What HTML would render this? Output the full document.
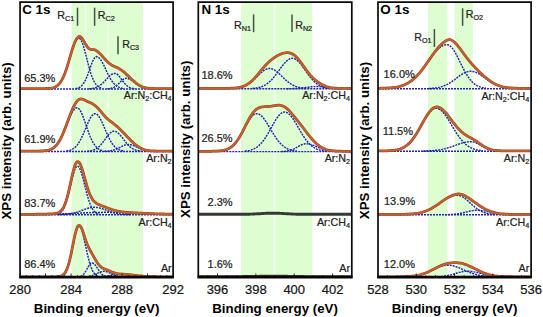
<!DOCTYPE html>
<html><head><meta charset="utf-8"><style>
html,body{margin:0;padding:0;background:#fff;width:543px;height:317px;overflow:hidden;font-family:"Liberation Sans", sans-serif;}
text.n{stroke:#222;stroke-width:0.22px;}
</style></head><body>
<svg width="543" height="317" viewBox="0 0 543 317" style="position:absolute;left:0;top:0"><defs><clipPath id="c0"><rect x="20.05" y="2.1" width="153.05" height="275.50"/></clipPath><clipPath id="c1"><rect x="198.3" y="2.1" width="153.50" height="275.50"/></clipPath><clipPath id="c2"><rect x="378.0" y="2.1" width="153.10" height="275.50"/></clipPath></defs><rect x="71.6" y="2.1" width="71.40" height="275.50" fill="#eefdea"/><rect x="71.6" y="2.1" width="13.00" height="275.50" fill="#defed2"/><rect x="86.4" y="2.1" width="20.80" height="275.50" fill="#defed2"/><rect x="109.2" y="2.1" width="33.80" height="275.50" fill="#defed2"/><rect x="241.2" y="2.1" width="71.00" height="275.50" fill="#eefdea"/><rect x="241.2" y="2.1" width="32.30" height="275.50" fill="#defed2"/><rect x="275.6" y="2.1" width="36.60" height="275.50" fill="#defed2"/><rect x="428.0" y="2.1" width="19.40" height="275.50" fill="#defed2"/><rect x="454.6" y="2.1" width="18.20" height="275.50" fill="#defed2"/><g clip-path="url(#c0)"><path d="M21.05,88.90 L172.1,88.90" stroke="#1e24b4" stroke-width="1.45" stroke-dasharray="2.0 1.0" fill="none"/><path d="M51.8,88.3 52.8,88.1 53.8,87.8 54.8,87.5 55.8,87.0 56.8,86.3 57.8,85.6 58.8,84.6 59.8,83.4 60.8,82.0 61.8,80.4 62.8,78.5 63.8,76.3 64.8,73.8 65.8,71.0 66.8,68.1 67.8,64.9 68.8,61.6 69.8,58.2 70.8,54.8 71.8,51.4 72.8,48.3 73.8,45.4 74.8,42.9 75.8,40.9 76.8,39.4 77.8,38.4 78.8,38.1 79.8,38.5 80.8,39.7 81.8,41.6 82.8,44.2 83.8,47.4 84.8,50.9 85.8,54.8 86.8,58.7 87.8,62.6 88.8,66.4 89.8,69.9 90.8,73.2 91.8,76.1 92.8,78.6 93.8,80.8 94.8,82.6 95.8,84.1 96.8,85.3 97.8,86.2 98.8,87.0 99.8,87.5 100.8,87.9 101.8,88.2" stroke="#1e24b4" stroke-width="1.45" stroke-dasharray="2.0 1.0" fill="none"/><path d="M75.8,88.5 76.8,88.4 77.8,88.1 78.8,87.7 79.8,87.2 80.8,86.5 81.8,85.6 82.8,84.4 83.8,83.0 84.8,81.3 85.8,79.3 86.8,76.9 87.8,74.4 88.8,71.7 89.8,68.8 90.8,66.0 91.8,63.4 92.8,61.0 93.8,59.1 94.8,57.6 95.8,56.8 96.8,56.6 97.8,56.9 98.8,57.5 99.8,58.6 100.8,59.9 101.8,61.5 102.8,63.3 103.8,65.3 104.8,67.4 105.8,69.5 106.8,71.7 107.8,73.7 108.8,75.7 109.8,77.6 110.8,79.3 111.8,80.9 112.8,82.2 113.8,83.4 114.8,84.5 115.8,85.4 116.8,86.1 117.8,86.7 118.8,87.2 119.8,87.6 120.8,87.9 121.8,88.2 122.8,88.4 123.8,88.5" stroke="#1e24b4" stroke-width="1.45" stroke-dasharray="2.0 1.0" fill="none"/><path d="M89.1,88.7 90.1,88.7 91.1,88.6 92.1,88.4 93.1,88.3 94.1,88.1 95.1,87.8 96.1,87.5 97.1,87.1 98.1,86.6 99.1,86.0 100.1,85.3 101.1,84.5 102.1,83.7 103.1,82.8 104.1,81.7 105.1,80.7 106.1,79.6 107.1,78.5 108.1,77.4 109.1,76.4 110.1,75.5 111.1,74.7 112.1,74.1 113.1,73.6 114.1,73.4 115.1,73.4 116.1,73.6 117.1,74.2 118.1,75.1 119.1,76.2 120.1,77.4 121.1,78.8 122.1,80.2 123.1,81.5 124.1,82.8 125.1,83.9 126.1,85.0 127.1,85.8 128.1,86.6 129.1,87.2 130.1,87.6 131.1,88.0 132.1,88.3 133.1,88.5 134.1,88.6 135.1,88.7" stroke="#1e24b4" stroke-width="1.45" stroke-dasharray="2.0 1.0" fill="none"/><path d="M107.3,88.8 108.3,88.7 109.3,88.6 110.3,88.5 111.3,88.2 112.3,88.0 113.3,87.6 114.3,87.1 115.3,86.5 116.3,85.8 117.3,84.9 118.3,84.0 119.3,83.0 120.3,82.0 121.3,81.0 122.3,80.0 123.3,79.3 124.3,78.7 125.3,78.4 126.3,78.3 127.3,78.4 128.3,78.7 129.3,79.0 130.3,79.5 131.3,80.1 132.3,80.8 133.3,81.5 134.3,82.2 135.3,83.0 136.3,83.7 137.3,84.4 138.3,85.1 139.3,85.7 140.3,86.2 141.3,86.7 142.3,87.1 143.3,87.5 144.3,87.8 145.3,88.0 146.3,88.2 147.3,88.4 148.3,88.5 149.3,88.6 150.3,88.7 151.3,88.8" stroke="#1e24b4" stroke-width="1.45" stroke-dasharray="2.0 1.0" fill="none"/><path d="M20.1,88.6 21.1,88.6 22.1,88.6 23.1,88.6 24.1,88.6 25.1,88.6 26.1,88.6 27.1,88.6 28.1,88.6 29.1,88.6 30.1,88.6 31.1,88.6 32.0,88.6 33.0,88.6 34.0,88.6 35.0,88.6 36.0,88.6 37.0,88.6 38.0,88.6 39.0,88.6 40.0,88.6 41.0,88.6 42.0,88.6 43.0,88.6 44.0,88.6 45.0,88.6 46.0,88.5 47.0,88.5 48.0,88.5 49.0,88.4 50.0,88.3 51.0,88.2 52.0,88.0 53.0,87.8 54.0,87.5 55.0,87.1 56.0,86.6 57.0,85.9 58.0,85.1 59.0,84.1 60.0,82.9 61.0,81.4 62.0,79.7 63.0,77.7 64.0,75.5 65.0,73.0 66.0,70.2 67.0,67.1 68.0,63.9 69.0,60.6 70.0,57.2 71.0,53.7 72.0,50.4 73.0,47.3 74.0,44.4 75.0,41.9 76.0,39.8 77.0,38.2 78.0,37.1 79.0,36.5 80.0,36.5 81.0,37.1 82.0,38.2 83.0,39.7 84.0,41.4 85.0,43.2 86.0,44.9 87.0,46.4 88.0,47.7 89.0,48.6 90.0,49.2 91.0,49.5 92.0,49.6 93.0,49.7 94.0,49.7 95.0,49.9 96.0,50.4 97.0,51.1 98.0,51.9 99.0,52.8 100.0,53.7 101.0,54.7 102.0,55.8 103.0,57.0 104.0,58.1 105.0,59.2 106.0,60.3 107.0,61.3 108.0,62.3 109.0,63.2 110.0,63.9 111.0,64.6 112.0,65.3 113.0,65.8 114.0,66.3 115.0,66.7 116.0,67.1 117.0,67.6 118.0,68.1 119.0,68.6 120.0,69.2 121.0,69.9 122.0,70.5 123.0,71.3 124.0,72.0 125.0,72.9 126.0,73.9 127.0,74.9 128.1,75.9 129.1,76.8 130.1,77.8 131.1,78.7 132.1,79.7 133.1,80.6 134.1,81.4 135.1,82.3 136.1,83.1 137.1,83.9 138.1,84.6 139.1,85.2 140.1,85.8 141.1,86.3 142.1,86.7 143.1,87.1 144.1,87.4 145.1,87.7 146.1,87.9 147.1,88.1 148.1,88.2 149.1,88.3 150.1,88.4 151.1,88.4 152.1,88.5 153.1,88.5 154.1,88.5 155.1,88.6 156.1,88.6 157.1,88.6 158.1,88.6 159.1,88.6 160.1,88.6 161.1,88.6 162.1,88.6 163.1,88.6 164.1,88.6 165.1,88.6 166.1,88.6 167.1,88.6 168.1,88.6 169.1,88.6 170.1,88.6 171.1,88.6 172.1,88.6 173.1,88.6" stroke="#8c4a2c" stroke-width="2.8" fill="none" stroke-linejoin="round"/><path d="M20.1,88.6 21.1,88.6 22.1,88.6 23.1,88.6 24.1,88.6 25.1,88.6 26.1,88.6 27.1,88.6 28.1,88.6 29.1,88.6 30.1,88.6 31.1,88.6 32.0,88.6 33.0,88.6 34.0,88.6 35.0,88.6 36.0,88.6 37.0,88.6 38.0,88.6 39.0,88.6 40.0,88.6 41.0,88.6 42.0,88.6 43.0,88.6 44.0,88.6 45.0,88.6 46.0,88.5 47.0,88.5 48.0,88.5 49.0,88.4 50.0,88.3 51.0,88.2 52.0,88.0 53.0,87.8 54.0,87.5 55.0,87.1 56.0,86.6 57.0,85.9 58.0,85.1 59.0,84.1 60.0,82.9 61.0,81.4 62.0,79.7 63.0,77.7 64.0,75.5 65.0,73.0 66.0,70.2 67.0,67.1 68.0,63.9 69.0,60.6 70.0,57.2 71.0,53.7 72.0,50.4 73.0,47.3 74.0,44.4 75.0,41.9 76.0,39.8 77.0,38.2 78.0,37.1 79.0,36.5 80.0,36.5 81.0,37.1 82.0,38.2 83.0,39.7 84.0,41.4 85.0,43.2 86.0,44.9 87.0,46.4 88.0,47.7 89.0,48.6 90.0,49.2 91.0,49.5 92.0,49.6 93.0,49.7 94.0,49.7 95.0,49.9 96.0,50.4 97.0,51.1 98.0,51.9 99.0,52.8 100.0,53.7 101.0,54.7 102.0,55.8 103.0,57.0 104.0,58.1 105.0,59.2 106.0,60.3 107.0,61.3 108.0,62.3 109.0,63.2 110.0,63.9 111.0,64.6 112.0,65.3 113.0,65.8 114.0,66.3 115.0,66.7 116.0,67.1 117.0,67.6 118.0,68.1 119.0,68.6 120.0,69.2 121.0,69.9 122.0,70.5 123.0,71.3 124.0,72.0 125.0,72.9 126.0,73.9 127.0,74.9 128.1,75.9 129.1,76.8 130.1,77.8 131.1,78.7 132.1,79.7 133.1,80.6 134.1,81.4 135.1,82.3 136.1,83.1 137.1,83.9 138.1,84.6 139.1,85.2 140.1,85.8 141.1,86.3 142.1,86.7 143.1,87.1 144.1,87.4 145.1,87.7 146.1,87.9 147.1,88.1 148.1,88.2 149.1,88.3 150.1,88.4 151.1,88.4 152.1,88.5 153.1,88.5 154.1,88.5 155.1,88.6 156.1,88.6 157.1,88.6 158.1,88.6 159.1,88.6 160.1,88.6 161.1,88.6 162.1,88.6 163.1,88.6 164.1,88.6 165.1,88.6 166.1,88.6 167.1,88.6 168.1,88.6 169.1,88.6 170.1,88.6 171.1,88.6 172.1,88.6 173.1,88.6" stroke="#cc5e28" stroke-width="1.8" fill="none" stroke-linejoin="round"/><path d="M21.05,151.40 L172.1,151.40" stroke="#1e24b4" stroke-width="1.45" stroke-dasharray="2.0 1.0" fill="none"/><path d="M46.1,150.9 47.1,150.8 48.1,150.5 49.1,150.3 50.1,150.0 51.1,149.6 52.1,149.1 53.1,148.4 54.1,147.7 55.1,146.9 56.1,145.8 57.1,144.7 58.1,143.3 59.1,141.8 60.1,140.1 61.1,138.2 62.1,136.1 63.1,133.9 64.1,131.5 65.1,129.0 66.1,126.5 67.1,123.9 68.1,121.4 69.1,118.9 70.1,116.6 71.1,114.4 72.1,112.5 73.1,110.8 74.1,109.5 75.1,108.5 76.1,108.0 77.1,107.8 78.1,108.1 79.1,109.0 80.1,110.3 81.1,112.1 82.1,114.3 83.1,116.7 84.1,119.5 85.1,122.3 86.1,125.2 87.1,128.2 88.1,131.0 89.1,133.7 90.1,136.3 91.1,138.6 92.1,140.7 93.1,142.6 94.1,144.2 95.1,145.6 96.1,146.8 97.1,147.8 98.1,148.6 99.1,149.3 100.1,149.8 101.1,150.2 102.1,150.5 103.1,150.7" stroke="#1e24b4" stroke-width="1.45" stroke-dasharray="2.0 1.0" fill="none"/><path d="M66.5,151.0 67.5,150.8 68.5,150.6 69.5,150.4 70.5,150.1 71.5,149.6 72.5,149.1 73.5,148.5 74.5,147.8 75.5,146.9 76.5,145.8 77.5,144.6 78.5,143.1 79.5,141.5 80.5,139.8 81.5,137.8 82.5,135.7 83.5,133.5 84.5,131.1 85.5,128.7 86.5,126.4 87.5,124.0 88.5,121.8 89.5,119.7 90.5,117.9 91.5,116.3 92.5,115.1 93.5,114.2 94.5,113.7 95.5,113.7 96.5,114.0 97.5,114.8 98.5,115.9 99.5,117.3 100.5,119.1 101.5,121.1 102.5,123.2 103.5,125.5 104.5,127.9 105.5,130.3 106.5,132.6 107.5,134.9 108.5,137.0 109.5,139.0 110.5,140.9 111.5,142.5 112.5,144.0 113.5,145.3 114.5,146.4 115.5,147.4 116.5,148.2 117.5,148.9 118.5,149.4 119.5,149.9 120.5,150.2 121.5,150.5 122.5,150.7 123.5,150.9" stroke="#1e24b4" stroke-width="1.45" stroke-dasharray="2.0 1.0" fill="none"/><path d="M87.4,151.2 88.4,151.1 89.4,151.0 90.4,150.8 91.4,150.6 92.4,150.4 93.4,150.0 94.4,149.7 95.4,149.2 96.4,148.6 97.4,147.9 98.4,147.1 99.4,146.2 100.4,145.2 101.4,144.1 102.4,142.9 103.4,141.6 104.4,140.3 105.4,138.9 106.4,137.5 107.4,136.2 108.4,134.9 109.4,133.8 110.4,132.9 111.4,132.1 112.4,131.5 113.4,131.2 114.4,131.2 115.4,131.4 116.4,131.8 117.4,132.4 118.4,133.2 119.4,134.2 120.4,135.3 121.4,136.5 122.4,137.8 123.4,139.1 124.4,140.4 125.4,141.7 126.4,143.0 127.4,144.1 128.4,145.2 129.4,146.2 130.4,147.1 131.4,147.8 132.4,148.5 133.4,149.1 134.4,149.5 135.4,149.9 136.4,150.3 137.4,150.5 138.4,150.7 139.4,150.9 140.4,151.0 141.4,151.1" stroke="#1e24b4" stroke-width="1.45" stroke-dasharray="2.0 1.0" fill="none"/><path d="M104.1,151.3 105.1,151.3 106.1,151.2 107.1,151.2 108.1,151.1 109.1,151.0 110.1,150.9 111.1,150.7 112.1,150.5 113.1,150.2 114.1,149.9 115.1,149.6 116.1,149.2 117.1,148.8 118.1,148.3 119.1,147.8 120.1,147.3 121.1,146.8 122.1,146.3 123.1,145.8 124.1,145.4 125.1,145.0 126.1,144.8 127.1,144.6 128.1,144.5 129.1,144.5 130.1,144.6 131.1,144.8 132.1,145.1 133.1,145.4 134.1,145.8 135.1,146.3 136.1,146.7 137.1,147.2 138.1,147.7 139.1,148.1 140.1,148.6 141.1,149.0 142.1,149.4 143.1,149.7 144.1,150.0 145.1,150.3 146.1,150.5 147.1,150.7 148.1,150.8 149.1,151.0 150.1,151.1 151.1,151.2 152.1,151.2 153.1,151.3 154.1,151.3" stroke="#1e24b4" stroke-width="1.45" stroke-dasharray="2.0 1.0" fill="none"/><path d="M20.1,151.1 21.1,151.1 22.1,151.1 23.1,151.1 24.1,151.1 25.1,151.1 26.1,151.1 27.1,151.1 28.1,151.1 29.1,151.1 30.1,151.1 31.1,151.1 32.0,151.1 33.0,151.1 34.0,151.1 35.0,151.1 36.0,151.1 37.0,151.1 38.0,151.1 39.0,151.1 40.0,151.0 41.0,151.0 42.0,151.0 43.0,150.9 44.0,150.8 45.0,150.7 46.0,150.6 47.0,150.5 48.0,150.3 49.0,150.0 50.0,149.7 51.0,149.3 52.0,148.8 53.0,148.2 54.0,147.5 55.0,146.6 56.0,145.6 57.0,144.4 58.0,143.1 59.0,141.5 60.0,139.8 61.0,137.9 62.0,135.8 63.0,133.5 64.0,131.1 65.0,128.6 66.0,126.0 67.0,123.3 68.0,120.5 69.0,117.8 70.0,115.2 71.0,112.6 72.0,110.2 73.0,108.0 74.0,106.0 75.0,104.2 76.0,102.6 77.0,101.2 78.0,100.2 79.0,99.5 80.0,99.1 81.0,99.0 82.0,99.1 83.0,99.4 84.0,99.7 85.0,100.2 86.0,100.7 87.0,101.2 88.0,101.7 89.0,102.1 90.0,102.6 91.0,103.1 92.0,103.6 93.0,104.1 94.0,104.8 95.0,105.5 96.0,106.3 97.0,107.2 98.0,108.2 99.0,109.3 100.0,110.5 101.0,111.7 102.0,112.9 103.0,114.1 104.0,115.3 105.0,116.4 106.0,117.5 107.0,118.4 108.0,119.3 109.0,120.2 110.0,121.0 111.0,121.7 112.0,122.4 113.0,123.2 114.0,124.0 115.0,124.8 116.0,125.6 117.0,126.4 118.0,127.3 119.0,128.2 120.0,129.2 121.0,130.2 122.0,131.2 123.0,132.2 124.0,133.3 125.0,134.3 126.0,135.4 127.0,136.5 128.1,137.5 129.1,138.6 130.1,139.6 131.1,140.7 132.1,141.6 133.1,142.6 134.1,143.5 135.1,144.3 136.1,145.2 137.1,145.9 138.1,146.6 139.1,147.3 140.1,147.8 141.1,148.4 142.1,148.8 143.1,149.2 144.1,149.6 145.1,149.9 146.1,150.1 147.1,150.3 148.1,150.5 149.1,150.6 150.1,150.8 151.1,150.8 152.1,150.9 153.1,151.0 154.1,151.0 155.1,151.0 156.1,151.1 157.1,151.1 158.1,151.1 159.1,151.1 160.1,151.1 161.1,151.1 162.1,151.1 163.1,151.1 164.1,151.1 165.1,151.1 166.1,151.1 167.1,151.1 168.1,151.1 169.1,151.1 170.1,151.1 171.1,151.1 172.1,151.1 173.1,151.1" stroke="#8c4a2c" stroke-width="2.8" fill="none" stroke-linejoin="round"/><path d="M20.1,151.1 21.1,151.1 22.1,151.1 23.1,151.1 24.1,151.1 25.1,151.1 26.1,151.1 27.1,151.1 28.1,151.1 29.1,151.1 30.1,151.1 31.1,151.1 32.0,151.1 33.0,151.1 34.0,151.1 35.0,151.1 36.0,151.1 37.0,151.1 38.0,151.1 39.0,151.1 40.0,151.0 41.0,151.0 42.0,151.0 43.0,150.9 44.0,150.8 45.0,150.7 46.0,150.6 47.0,150.5 48.0,150.3 49.0,150.0 50.0,149.7 51.0,149.3 52.0,148.8 53.0,148.2 54.0,147.5 55.0,146.6 56.0,145.6 57.0,144.4 58.0,143.1 59.0,141.5 60.0,139.8 61.0,137.9 62.0,135.8 63.0,133.5 64.0,131.1 65.0,128.6 66.0,126.0 67.0,123.3 68.0,120.5 69.0,117.8 70.0,115.2 71.0,112.6 72.0,110.2 73.0,108.0 74.0,106.0 75.0,104.2 76.0,102.6 77.0,101.2 78.0,100.2 79.0,99.5 80.0,99.1 81.0,99.0 82.0,99.1 83.0,99.4 84.0,99.7 85.0,100.2 86.0,100.7 87.0,101.2 88.0,101.7 89.0,102.1 90.0,102.6 91.0,103.1 92.0,103.6 93.0,104.1 94.0,104.8 95.0,105.5 96.0,106.3 97.0,107.2 98.0,108.2 99.0,109.3 100.0,110.5 101.0,111.7 102.0,112.9 103.0,114.1 104.0,115.3 105.0,116.4 106.0,117.5 107.0,118.4 108.0,119.3 109.0,120.2 110.0,121.0 111.0,121.7 112.0,122.4 113.0,123.2 114.0,124.0 115.0,124.8 116.0,125.6 117.0,126.4 118.0,127.3 119.0,128.2 120.0,129.2 121.0,130.2 122.0,131.2 123.0,132.2 124.0,133.3 125.0,134.3 126.0,135.4 127.0,136.5 128.1,137.5 129.1,138.6 130.1,139.6 131.1,140.7 132.1,141.6 133.1,142.6 134.1,143.5 135.1,144.3 136.1,145.2 137.1,145.9 138.1,146.6 139.1,147.3 140.1,147.8 141.1,148.4 142.1,148.8 143.1,149.2 144.1,149.6 145.1,149.9 146.1,150.1 147.1,150.3 148.1,150.5 149.1,150.6 150.1,150.8 151.1,150.8 152.1,150.9 153.1,151.0 154.1,151.0 155.1,151.0 156.1,151.1 157.1,151.1 158.1,151.1 159.1,151.1 160.1,151.1 161.1,151.1 162.1,151.1 163.1,151.1 164.1,151.1 165.1,151.1 166.1,151.1 167.1,151.1 168.1,151.1 169.1,151.1 170.1,151.1 171.1,151.1 172.1,151.1 173.1,151.1" stroke="#cc5e28" stroke-width="1.8" fill="none" stroke-linejoin="round"/><path d="M21.05,214.70 L172.1,214.70" stroke="#1e24b4" stroke-width="1.45" stroke-dasharray="2.0 1.0" fill="none"/><path d="M57.2,214.2 58.2,213.9 59.2,213.4 60.2,212.8 61.2,212.0 62.2,210.9 63.2,209.5 64.2,207.6 65.2,205.3 66.2,202.6 67.2,199.3 68.2,195.7 69.2,191.6 70.2,187.4 71.2,183.0 72.2,178.7 73.2,174.8 74.2,171.4 75.2,168.7 76.2,167.0 77.2,166.2 78.2,166.4 79.2,167.6 80.2,169.6 81.2,172.3 82.2,175.6 83.2,179.3 84.2,183.2 85.2,187.2 86.2,191.2 87.2,195.0 88.2,198.4 89.2,201.5 90.2,204.3 91.2,206.6 92.2,208.5 93.2,210.0 94.2,211.3 95.2,212.2 96.2,212.9 97.2,213.5 98.2,213.9 99.2,214.1" stroke="#1e24b4" stroke-width="1.45" stroke-dasharray="2.0 1.0" fill="none"/><path d="M58.0,214.6 59.0,214.6 60.0,214.6 61.0,214.5 62.0,214.5 63.0,214.4 64.0,214.4 65.0,214.3 66.0,214.2 67.0,214.1 68.0,214.0 69.0,213.9 70.0,213.7 71.0,213.6 72.0,213.4 73.0,213.1 74.0,212.9 75.0,212.6 76.0,212.4 77.0,212.1 78.0,211.7 79.0,211.4 80.0,211.1 81.0,210.7 82.0,210.3 83.0,210.0 84.0,209.6 85.0,209.2 86.0,208.9 87.0,208.6 88.0,208.3 89.0,208.0 90.0,207.8 91.0,207.6 92.0,207.5 93.0,207.4 94.0,207.3 95.0,207.3 96.0,207.4 97.0,207.5 98.0,207.6 99.0,207.8 100.0,208.1 101.0,208.4 102.0,208.7 103.0,209.0 104.0,209.3 105.0,209.7 106.0,210.1 107.0,210.5 108.0,210.8 109.0,211.2 110.0,211.6 111.0,211.9 112.0,212.2 113.0,212.5 114.0,212.8 115.0,213.0 116.0,213.3 117.0,213.5 118.0,213.7 119.0,213.8 120.0,214.0 121.0,214.1 122.0,214.2 123.0,214.3 124.0,214.4 125.0,214.4 126.0,214.5 127.0,214.5 128.1,214.6 129.1,214.6 130.1,214.6" stroke="#1e24b4" stroke-width="1.45" stroke-dasharray="2.0 1.0" fill="none"/><path d="M20.1,214.7 21.1,214.7 22.1,214.7 23.1,214.6 24.1,214.6 25.1,214.6 26.1,214.6 27.1,214.6 28.1,214.6 29.1,214.6 30.1,214.6 31.1,214.6 32.0,214.6 33.0,214.6 34.0,214.6 35.0,214.6 36.0,214.5 37.0,214.5 38.0,214.5 39.0,214.5 40.0,214.5 41.0,214.5 42.0,214.5 43.0,214.4 44.0,214.4 45.0,214.4 46.0,214.4 47.0,214.4 48.0,214.3 49.0,214.3 50.0,214.3 51.0,214.3 52.0,214.2 53.0,214.2 54.0,214.2 55.0,214.1 56.0,214.1 57.0,214.1 58.0,214.0 59.0,214.0 60.0,214.0 61.0,213.9 62.0,213.9 63.0,213.8 64.0,213.8 65.0,213.8 66.0,213.7 67.0,213.7 68.0,213.6 69.0,213.6 70.0,213.5 71.0,213.5 72.0,213.5 73.0,213.4 74.0,213.4 75.0,213.3 76.0,213.3 77.0,213.2 78.0,213.2 79.0,213.1 80.0,213.1 81.0,213.0 82.0,213.0 83.0,212.9 84.0,212.9 85.0,212.8 86.0,212.8 87.0,212.8 88.0,212.7 89.0,212.7 90.0,212.6 91.0,212.6 92.0,212.6 93.0,212.5 94.0,212.5 95.0,212.5 96.0,212.5 97.0,212.4 98.0,212.4 99.0,212.4 100.0,212.4 101.0,212.4 102.0,212.4 103.0,212.3 104.0,212.3 105.0,212.3 106.0,212.3 107.0,212.3 108.0,212.3 109.0,212.3 110.0,212.4 111.0,212.4 112.0,212.4 113.0,212.4 114.0,212.4 115.0,212.4 116.0,212.5 117.0,212.5 118.0,212.5 119.0,212.5 120.0,212.6 121.0,212.6 122.0,212.6 123.0,212.7 124.0,212.7 125.0,212.8 126.0,212.8 127.0,212.8 128.1,212.9 129.1,212.9 130.1,213.0 131.1,213.0 132.1,213.1 133.1,213.1 134.1,213.2 135.1,213.2 136.1,213.3 137.1,213.3 138.1,213.4 139.1,213.4 140.1,213.5 141.1,213.5 142.1,213.6 143.1,213.6 144.1,213.6 145.1,213.7 146.1,213.7 147.1,213.8 148.1,213.8 149.1,213.9 150.1,213.9 151.1,213.9 152.1,214.0 153.1,214.0 154.1,214.0 155.1,214.1 156.1,214.1 157.1,214.1 158.1,214.2 159.1,214.2 160.1,214.2 161.1,214.3 162.1,214.3 163.1,214.3 164.1,214.3 165.1,214.4 166.1,214.4 167.1,214.4 168.1,214.4 169.1,214.4 170.1,214.5 171.1,214.5 172.1,214.5 173.1,214.5" stroke="#1e24b4" stroke-width="1.45" stroke-dasharray="2.0 1.0" fill="none"/><path d="M20.1,214.4 21.1,214.4 22.1,214.4 23.1,214.3 24.1,214.3 25.1,214.3 26.1,214.3 27.1,214.3 28.1,214.3 29.1,214.3 30.1,214.3 31.1,214.3 32.0,214.3 33.0,214.3 34.0,214.3 35.0,214.3 36.0,214.2 37.0,214.2 38.0,214.2 39.0,214.2 40.0,214.2 41.0,214.2 42.0,214.2 43.0,214.1 44.0,214.1 45.0,214.1 46.0,214.1 47.0,214.1 48.0,214.0 49.0,214.0 50.0,214.0 51.0,213.9 52.0,213.9 53.0,213.8 54.0,213.7 55.0,213.6 56.0,213.4 57.0,213.2 58.0,212.9 59.0,212.4 60.0,211.8 61.0,210.9 62.0,209.8 63.0,208.3 64.0,206.4 65.0,204.0 66.0,201.2 67.0,197.9 68.0,194.1 69.0,189.9 70.0,185.5 71.0,180.9 72.0,176.4 73.0,172.1 74.0,168.4 75.0,165.3 76.0,163.1 77.0,161.8 78.0,161.6 79.0,162.2 80.0,163.7 81.0,165.9 82.0,168.7 83.0,171.9 84.0,175.5 85.0,179.1 86.0,182.7 87.0,186.1 88.0,189.3 89.0,192.2 90.0,194.7 91.0,196.8 92.0,198.6 93.0,200.1 94.0,201.3 95.0,202.2 96.0,203.0 97.0,203.6 98.0,204.2 99.0,204.6 100.0,205.1 101.0,205.5 102.0,205.9 103.0,206.2 104.0,206.6 105.0,207.0 106.0,207.4 107.0,207.8 108.0,208.2 109.0,208.5 110.0,208.9 111.0,209.2 112.0,209.6 113.0,209.9 114.0,210.2 115.0,210.5 116.0,210.7 117.0,211.0 118.0,211.2 119.0,211.4 120.0,211.5 121.0,211.7 122.0,211.8 123.0,212.0 124.0,212.1 125.0,212.2 126.0,212.3 127.0,212.4 128.1,212.5 129.1,212.5 130.1,212.6 131.1,212.7 132.1,212.7 133.1,212.8 134.1,212.8 135.1,212.9 136.1,213.0 137.1,213.0 138.1,213.1 139.1,213.1 140.1,213.2 141.1,213.2 142.1,213.2 143.1,213.3 144.1,213.3 145.1,213.4 146.1,213.4 147.1,213.5 148.1,213.5 149.1,213.6 150.1,213.6 151.1,213.6 152.1,213.7 153.1,213.7 154.1,213.7 155.1,213.8 156.1,213.8 157.1,213.8 158.1,213.9 159.1,213.9 160.1,213.9 161.1,214.0 162.1,214.0 163.1,214.0 164.1,214.0 165.1,214.1 166.1,214.1 167.1,214.1 168.1,214.1 169.1,214.1 170.1,214.2 171.1,214.2 172.1,214.2 173.1,214.2" stroke="#8c4a2c" stroke-width="2.8" fill="none" stroke-linejoin="round"/><path d="M20.1,214.4 21.1,214.4 22.1,214.4 23.1,214.3 24.1,214.3 25.1,214.3 26.1,214.3 27.1,214.3 28.1,214.3 29.1,214.3 30.1,214.3 31.1,214.3 32.0,214.3 33.0,214.3 34.0,214.3 35.0,214.3 36.0,214.2 37.0,214.2 38.0,214.2 39.0,214.2 40.0,214.2 41.0,214.2 42.0,214.2 43.0,214.1 44.0,214.1 45.0,214.1 46.0,214.1 47.0,214.1 48.0,214.0 49.0,214.0 50.0,214.0 51.0,213.9 52.0,213.9 53.0,213.8 54.0,213.7 55.0,213.6 56.0,213.4 57.0,213.2 58.0,212.9 59.0,212.4 60.0,211.8 61.0,210.9 62.0,209.8 63.0,208.3 64.0,206.4 65.0,204.0 66.0,201.2 67.0,197.9 68.0,194.1 69.0,189.9 70.0,185.5 71.0,180.9 72.0,176.4 73.0,172.1 74.0,168.4 75.0,165.3 76.0,163.1 77.0,161.8 78.0,161.6 79.0,162.2 80.0,163.7 81.0,165.9 82.0,168.7 83.0,171.9 84.0,175.5 85.0,179.1 86.0,182.7 87.0,186.1 88.0,189.3 89.0,192.2 90.0,194.7 91.0,196.8 92.0,198.6 93.0,200.1 94.0,201.3 95.0,202.2 96.0,203.0 97.0,203.6 98.0,204.2 99.0,204.6 100.0,205.1 101.0,205.5 102.0,205.9 103.0,206.2 104.0,206.6 105.0,207.0 106.0,207.4 107.0,207.8 108.0,208.2 109.0,208.5 110.0,208.9 111.0,209.2 112.0,209.6 113.0,209.9 114.0,210.2 115.0,210.5 116.0,210.7 117.0,211.0 118.0,211.2 119.0,211.4 120.0,211.5 121.0,211.7 122.0,211.8 123.0,212.0 124.0,212.1 125.0,212.2 126.0,212.3 127.0,212.4 128.1,212.5 129.1,212.5 130.1,212.6 131.1,212.7 132.1,212.7 133.1,212.8 134.1,212.8 135.1,212.9 136.1,213.0 137.1,213.0 138.1,213.1 139.1,213.1 140.1,213.2 141.1,213.2 142.1,213.2 143.1,213.3 144.1,213.3 145.1,213.4 146.1,213.4 147.1,213.5 148.1,213.5 149.1,213.6 150.1,213.6 151.1,213.6 152.1,213.7 153.1,213.7 154.1,213.7 155.1,213.8 156.1,213.8 157.1,213.8 158.1,213.9 159.1,213.9 160.1,213.9 161.1,214.0 162.1,214.0 163.1,214.0 164.1,214.0 165.1,214.1 166.1,214.1 167.1,214.1 168.1,214.1 169.1,214.1 170.1,214.2 171.1,214.2 172.1,214.2 173.1,214.2" stroke="#cc5e28" stroke-width="1.8" fill="none" stroke-linejoin="round"/><path d="M21.05,277.10 L172.1,277.10" stroke="#1e24b4" stroke-width="1.45" stroke-dasharray="2.0 1.0" fill="none"/><path d="M60.5,276.5 61.5,276.2 62.5,275.7 63.5,274.9 64.5,273.9 65.5,272.4 66.5,270.5 67.5,268.1 68.5,265.0 69.5,261.4 70.5,257.2 71.5,252.5 72.5,247.6 73.5,242.5 74.5,237.7 75.5,233.4 76.5,229.8 77.5,227.3 78.5,226.1 79.5,226.1 80.5,227.3 81.5,229.5 82.5,232.7 83.5,236.6 84.5,240.9 85.5,245.5 86.5,250.1 87.5,254.6 88.5,258.7 89.5,262.5 90.5,265.7 91.5,268.4 92.5,270.6 93.5,272.4 94.5,273.7 95.5,274.7 96.5,275.5 97.5,276.0 98.5,276.4" stroke="#1e24b4" stroke-width="1.45" stroke-dasharray="2.0 1.0" fill="none"/><path d="M77.8,276.9 78.8,276.8 79.8,276.6 80.8,276.2 81.8,275.7 82.8,275.0 83.8,274.0 84.8,272.7 85.8,271.1 86.8,269.4 87.8,267.6 88.8,265.8 89.8,264.4 90.8,263.4 91.8,262.9 92.8,263.0 93.8,263.6 94.8,264.5 95.8,265.8 96.8,267.3 97.8,268.9 98.8,270.4 99.8,271.8 100.8,273.1 101.8,274.1 102.8,275.0 103.8,275.6 104.8,276.1 105.8,276.5 106.8,276.7 107.8,276.9" stroke="#1e24b4" stroke-width="1.45" stroke-dasharray="2.0 1.0" fill="none"/><path d="M82.8,277.0 83.8,277.0 84.8,277.0 85.8,276.9 86.8,276.8 87.8,276.7 88.8,276.5 89.8,276.3 90.8,276.1 91.8,275.8 92.8,275.4 93.8,275.0 94.8,274.6 95.8,274.1 96.8,273.6 97.8,273.1 98.8,272.7 99.8,272.2 100.8,271.9 101.8,271.6 102.8,271.4 103.8,271.3 104.8,271.4 105.8,271.5 106.8,271.8 107.8,272.1 108.8,272.6 109.8,273.0 110.8,273.5 111.8,274.0 112.8,274.5 113.8,275.0 114.8,275.4 115.8,275.7 116.8,276.0 117.8,276.3 118.8,276.5 119.8,276.7 120.8,276.8 121.8,276.9 122.8,276.9 123.8,277.0 124.8,277.0" stroke="#1e24b4" stroke-width="1.45" stroke-dasharray="2.0 1.0" fill="none"/><path d="M83.3,277.1 84.3,277.1 85.3,277.1 86.3,277.0 87.3,277.0 88.3,277.0 89.3,277.0 90.3,277.0 91.3,277.0 92.3,276.9 93.3,276.9 94.3,276.9 95.3,276.8 96.3,276.8 97.3,276.7 98.3,276.6 99.3,276.6 100.3,276.5 101.3,276.4 102.3,276.3 103.3,276.2 104.3,276.1 105.3,276.0 106.3,275.9 107.3,275.8 108.3,275.7 109.3,275.6 110.3,275.4 111.3,275.3 112.3,275.2 113.3,275.1 114.3,275.0 115.3,274.9 116.3,274.8 117.3,274.8 118.3,274.7 119.3,274.7 120.3,274.6 121.3,274.6 122.3,274.6 123.3,274.6 124.3,274.6 125.3,274.7 126.3,274.7 127.3,274.8 128.3,274.9 129.3,275.0 130.3,275.1 131.3,275.2 132.3,275.3 133.3,275.4 134.3,275.5 135.3,275.6 136.3,275.8 137.3,275.9 138.3,276.0 139.3,276.1 140.3,276.2 141.3,276.3 142.3,276.4 143.3,276.5 144.3,276.6 145.3,276.6 146.3,276.7 147.3,276.7 148.3,276.8 149.3,276.8 150.3,276.9 151.3,276.9 152.3,276.9 153.3,277.0 154.3,277.0 155.3,277.0 156.3,277.0 157.3,277.0 158.3,277.1 159.3,277.1 160.3,277.1" stroke="#1e24b4" stroke-width="1.45" stroke-dasharray="2.0 1.0" fill="none"/><path d="M20.1,276.8 21.1,276.8 22.1,276.8 23.1,276.8 24.1,276.8 25.1,276.8 26.1,276.8 27.1,276.8 28.1,276.8 29.1,276.8 30.1,276.8 31.1,276.8 32.0,276.8 33.0,276.8 34.0,276.8 35.0,276.8 36.0,276.8 37.0,276.8 38.0,276.8 39.0,276.8 40.0,276.8 41.0,276.8 42.0,276.8 43.0,276.8 44.0,276.8 45.0,276.8 46.0,276.8 47.0,276.8 48.0,276.8 49.0,276.8 50.0,276.8 51.0,276.8 52.0,276.8 53.0,276.8 54.0,276.8 55.0,276.8 56.0,276.8 57.0,276.7 58.0,276.6 59.0,276.5 60.0,276.3 61.0,276.1 62.0,275.6 63.0,275.0 64.0,274.1 65.0,272.8 66.0,271.1 67.0,268.9 68.0,266.2 69.0,262.8 70.0,258.8 71.0,254.4 72.0,249.5 73.0,244.5 74.0,239.5 75.0,234.9 76.0,231.0 77.0,227.9 78.0,226.0 79.0,225.3 80.0,225.7 81.0,227.1 82.0,229.2 83.0,231.9 84.0,235.0 85.0,238.1 86.0,241.0 87.0,243.7 88.0,246.0 89.0,248.1 90.0,250.0 91.0,251.8 92.0,253.6 93.0,255.4 94.0,257.2 95.0,258.9 96.0,260.6 97.0,262.2 98.0,263.7 99.0,264.9 100.0,266.0 101.0,266.9 102.0,267.7 103.0,268.2 104.0,268.7 105.0,269.1 106.0,269.5 107.0,269.9 108.0,270.3 109.0,270.7 110.0,271.1 111.0,271.6 112.0,272.0 113.0,272.3 114.0,272.7 115.0,273.0 116.0,273.3 117.0,273.5 118.0,273.7 119.0,273.8 120.0,273.9 121.0,274.0 122.0,274.1 123.0,274.2 124.0,274.2 125.0,274.3 126.0,274.4 127.0,274.5 128.1,274.6 129.1,274.6 130.1,274.7 131.1,274.9 132.1,275.0 133.1,275.1 134.1,275.2 135.1,275.3 136.1,275.4 137.1,275.5 138.1,275.7 139.1,275.8 140.1,275.9 141.1,276.0 142.1,276.1 143.1,276.2 144.1,276.2 145.1,276.3 146.1,276.4 147.1,276.4 148.1,276.5 149.1,276.5 150.1,276.6 151.1,276.6 152.1,276.6 153.1,276.7 154.1,276.7 155.1,276.7 156.1,276.7 157.1,276.7 158.1,276.8 159.1,276.8 160.1,276.8 161.1,276.8 162.1,276.8 163.1,276.8 164.1,276.8 165.1,276.8 166.1,276.8 167.1,276.8 168.1,276.8 169.1,276.8 170.1,276.8 171.1,276.8 172.1,276.8 173.1,276.8" stroke="#8c4a2c" stroke-width="2.8" fill="none" stroke-linejoin="round"/><path d="M20.1,276.8 21.1,276.8 22.1,276.8 23.1,276.8 24.1,276.8 25.1,276.8 26.1,276.8 27.1,276.8 28.1,276.8 29.1,276.8 30.1,276.8 31.1,276.8 32.0,276.8 33.0,276.8 34.0,276.8 35.0,276.8 36.0,276.8 37.0,276.8 38.0,276.8 39.0,276.8 40.0,276.8 41.0,276.8 42.0,276.8 43.0,276.8 44.0,276.8 45.0,276.8 46.0,276.8 47.0,276.8 48.0,276.8 49.0,276.8 50.0,276.8 51.0,276.8 52.0,276.8 53.0,276.8 54.0,276.8 55.0,276.8 56.0,276.8 57.0,276.7 58.0,276.6 59.0,276.5 60.0,276.3 61.0,276.1 62.0,275.6 63.0,275.0 64.0,274.1 65.0,272.8 66.0,271.1 67.0,268.9 68.0,266.2 69.0,262.8 70.0,258.8 71.0,254.4 72.0,249.5 73.0,244.5 74.0,239.5 75.0,234.9 76.0,231.0 77.0,227.9 78.0,226.0 79.0,225.3 80.0,225.7 81.0,227.1 82.0,229.2 83.0,231.9 84.0,235.0 85.0,238.1 86.0,241.0 87.0,243.7 88.0,246.0 89.0,248.1 90.0,250.0 91.0,251.8 92.0,253.6 93.0,255.4 94.0,257.2 95.0,258.9 96.0,260.6 97.0,262.2 98.0,263.7 99.0,264.9 100.0,266.0 101.0,266.9 102.0,267.7 103.0,268.2 104.0,268.7 105.0,269.1 106.0,269.5 107.0,269.9 108.0,270.3 109.0,270.7 110.0,271.1 111.0,271.6 112.0,272.0 113.0,272.3 114.0,272.7 115.0,273.0 116.0,273.3 117.0,273.5 118.0,273.7 119.0,273.8 120.0,273.9 121.0,274.0 122.0,274.1 123.0,274.2 124.0,274.2 125.0,274.3 126.0,274.4 127.0,274.5 128.1,274.6 129.1,274.6 130.1,274.7 131.1,274.9 132.1,275.0 133.1,275.1 134.1,275.2 135.1,275.3 136.1,275.4 137.1,275.5 138.1,275.7 139.1,275.8 140.1,275.9 141.1,276.0 142.1,276.1 143.1,276.2 144.1,276.2 145.1,276.3 146.1,276.4 147.1,276.4 148.1,276.5 149.1,276.5 150.1,276.6 151.1,276.6 152.1,276.6 153.1,276.7 154.1,276.7 155.1,276.7 156.1,276.7 157.1,276.7 158.1,276.8 159.1,276.8 160.1,276.8 161.1,276.8 162.1,276.8 163.1,276.8 164.1,276.8 165.1,276.8 166.1,276.8 167.1,276.8 168.1,276.8 169.1,276.8 170.1,276.8 171.1,276.8 172.1,276.8 173.1,276.8" stroke="#cc5e28" stroke-width="1.8" fill="none" stroke-linejoin="round"/></g><g clip-path="url(#c1)"><path d="M199.3,88.70 L350.8,88.70" stroke="#1e24b4" stroke-width="1.45" stroke-dasharray="2.0 1.0" fill="none"/><path d="M232.7,88.5 233.7,88.4 234.7,88.3 235.7,88.2 236.7,88.1 237.7,88.0 238.7,87.8 239.7,87.6 240.7,87.4 241.7,87.1 242.7,86.8 243.7,86.5 244.7,86.1 245.7,85.6 246.7,85.1 247.7,84.5 248.7,83.9 249.7,83.2 250.7,82.4 251.7,81.6 252.7,80.7 253.7,79.8 254.7,78.9 255.7,77.9 256.7,76.9 257.7,75.9 258.7,74.9 259.7,73.9 260.7,73.0 261.7,72.1 262.7,71.3 263.7,70.6 264.7,69.9 265.7,69.4 266.7,69.0 267.7,68.7 268.7,68.5 269.7,68.5 270.7,68.6 271.7,68.8 272.7,69.2 273.7,69.6 274.7,70.2 275.7,70.9 276.7,71.6 277.7,72.4 278.7,73.3 279.7,74.2 280.7,75.1 281.7,76.1 282.7,77.1 283.7,78.0 284.7,79.0 285.7,79.9 286.7,80.7 287.7,81.6 288.7,82.4 289.7,83.1 290.7,83.8 291.7,84.4 292.7,85.0 293.7,85.5 294.7,85.9 295.7,86.4 296.7,86.7 297.7,87.0 298.7,87.3 299.7,87.5 300.7,87.7 301.7,87.9 302.7,88.1 303.7,88.2 304.7,88.3 305.7,88.4 306.7,88.4" stroke="#1e24b4" stroke-width="1.45" stroke-dasharray="2.0 1.0" fill="none"/><path d="M252.5,88.4 253.5,88.3 254.5,88.2 255.5,88.1 256.5,87.9 257.5,87.7 258.5,87.5 259.5,87.3 260.5,87.0 261.5,86.7 262.5,86.3 263.5,85.8 264.5,85.3 265.5,84.8 266.5,84.1 267.5,83.4 268.5,82.7 269.5,81.8 270.5,80.9 271.5,79.9 272.5,78.8 273.5,77.6 274.5,76.4 275.5,75.1 276.5,73.8 277.5,72.5 278.5,71.1 279.5,69.7 280.5,68.3 281.5,67.0 282.5,65.7 283.5,64.4 284.5,63.2 285.5,62.1 286.5,61.1 287.5,60.3 288.5,59.6 289.5,59.0 290.5,58.6 291.5,58.4 292.5,58.3 293.5,58.4 294.5,58.7 295.5,59.2 296.5,59.8 297.5,60.6 298.5,61.6 299.5,62.6 300.5,63.8 301.5,65.1 302.5,66.4 303.5,67.8 304.5,69.3 305.5,70.7 306.5,72.1 307.5,73.5 308.5,74.9 309.5,76.2 310.5,77.5 311.5,78.7 312.5,79.8 313.5,80.9 314.5,81.9 315.5,82.7 316.5,83.5 317.5,84.3 318.5,84.9 319.5,85.5 320.5,86.0 321.5,86.4 322.5,86.8 323.5,87.1 324.5,87.4 325.5,87.6 326.5,87.8 327.5,88.0 328.5,88.1 329.5,88.2 330.5,88.3" stroke="#1e24b4" stroke-width="1.45" stroke-dasharray="2.0 1.0" fill="none"/><path d="M286.6,88.7 287.6,88.7 288.6,88.7 289.6,88.6 290.6,88.6 291.6,88.6 292.6,88.6 293.6,88.5 294.6,88.5 295.6,88.5 296.6,88.4 297.6,88.4 298.6,88.3 299.6,88.2 300.6,88.1 301.6,88.0 302.6,87.9 303.6,87.8 304.6,87.7 305.6,87.5 306.6,87.4 307.6,87.3 308.6,87.2 309.6,87.0 310.6,86.9 311.6,86.8 312.6,86.7 313.6,86.6 314.6,86.6 315.6,86.5 316.6,86.5 317.6,86.5 318.6,86.5 319.6,86.6 320.6,86.7 321.6,86.9 322.6,87.0 323.6,87.2 324.6,87.4 325.6,87.6 326.6,87.7 327.6,87.9 328.6,88.1 329.6,88.2 330.6,88.3 331.6,88.4 332.6,88.5 333.6,88.5 334.6,88.6 335.6,88.6 336.6,88.6 337.6,88.7 338.6,88.7" stroke="#1e24b4" stroke-width="1.45" stroke-dasharray="2.0 1.0" fill="none"/><path d="M198.3,88.4 199.3,88.4 200.3,88.4 201.3,88.4 202.3,88.4 203.3,88.4 204.3,88.4 205.3,88.4 206.3,88.4 207.3,88.4 208.3,88.4 209.3,88.4 210.3,88.4 211.3,88.4 212.3,88.4 213.3,88.4 214.3,88.4 215.3,88.4 216.3,88.4 217.3,88.4 218.3,88.4 219.3,88.4 220.3,88.4 221.3,88.4 222.3,88.4 223.3,88.4 224.3,88.4 225.3,88.4 226.3,88.4 227.3,88.3 228.3,88.3 229.3,88.3 230.3,88.3 231.3,88.2 232.3,88.2 233.3,88.1 234.3,88.1 235.3,88.0 236.3,87.9 237.3,87.8 238.3,87.6 239.3,87.4 240.3,87.2 241.3,86.9 242.3,86.6 243.3,86.3 244.3,85.9 245.3,85.5 246.3,84.9 247.3,84.4 248.3,83.7 249.3,83.0 250.3,82.3 251.3,81.4 252.3,80.5 253.3,79.5 254.3,78.5 255.3,77.4 256.3,76.3 257.3,75.1 258.3,73.9 259.3,72.7 260.3,71.5 261.3,70.2 262.3,69.0 263.3,67.8 264.3,66.6 265.3,65.5 266.3,64.4 267.3,63.4 268.3,62.4 269.3,61.5 270.3,60.6 271.3,59.8 272.3,59.0 273.3,58.3 274.3,57.6 275.3,57.0 276.3,56.3 277.3,55.8 278.3,55.3 279.3,54.8 280.3,54.3 281.3,53.9 282.3,53.5 283.3,53.2 284.3,53.0 285.3,52.8 286.3,52.7 287.3,52.6 288.3,52.7 289.3,52.8 290.3,53.1 291.3,53.5 292.3,53.9 293.3,54.5 294.3,55.2 295.3,56.0 296.3,57.0 297.3,58.0 298.3,59.2 299.3,60.4 300.3,61.7 301.3,63.0 302.3,64.4 303.3,65.8 304.3,67.2 305.3,68.6 306.3,70.0 307.3,71.4 308.3,72.7 309.3,73.9 310.3,75.1 311.3,76.2 312.3,77.3 313.3,78.3 314.3,79.2 315.3,80.1 316.3,80.9 317.3,81.6 318.3,82.3 319.3,82.9 320.3,83.5 321.3,84.1 322.3,84.7 323.3,85.2 324.3,85.6 325.3,86.1 326.3,86.5 327.3,86.8 328.3,87.1 329.3,87.4 330.3,87.6 331.3,87.8 332.3,87.9 333.3,88.0 334.3,88.1 335.3,88.2 336.3,88.2 337.3,88.3 338.3,88.3 339.3,88.3 340.3,88.4 341.3,88.4 342.3,88.4 343.3,88.4 344.3,88.4 345.3,88.4 346.3,88.4 347.3,88.4 348.3,88.4 349.3,88.4 350.3,88.4 351.3,88.4" stroke="#8c4a2c" stroke-width="2.8" fill="none" stroke-linejoin="round"/><path d="M198.3,88.4 199.3,88.4 200.3,88.4 201.3,88.4 202.3,88.4 203.3,88.4 204.3,88.4 205.3,88.4 206.3,88.4 207.3,88.4 208.3,88.4 209.3,88.4 210.3,88.4 211.3,88.4 212.3,88.4 213.3,88.4 214.3,88.4 215.3,88.4 216.3,88.4 217.3,88.4 218.3,88.4 219.3,88.4 220.3,88.4 221.3,88.4 222.3,88.4 223.3,88.4 224.3,88.4 225.3,88.4 226.3,88.4 227.3,88.3 228.3,88.3 229.3,88.3 230.3,88.3 231.3,88.2 232.3,88.2 233.3,88.1 234.3,88.1 235.3,88.0 236.3,87.9 237.3,87.8 238.3,87.6 239.3,87.4 240.3,87.2 241.3,86.9 242.3,86.6 243.3,86.3 244.3,85.9 245.3,85.5 246.3,84.9 247.3,84.4 248.3,83.7 249.3,83.0 250.3,82.3 251.3,81.4 252.3,80.5 253.3,79.5 254.3,78.5 255.3,77.4 256.3,76.3 257.3,75.1 258.3,73.9 259.3,72.7 260.3,71.5 261.3,70.2 262.3,69.0 263.3,67.8 264.3,66.6 265.3,65.5 266.3,64.4 267.3,63.4 268.3,62.4 269.3,61.5 270.3,60.6 271.3,59.8 272.3,59.0 273.3,58.3 274.3,57.6 275.3,57.0 276.3,56.3 277.3,55.8 278.3,55.3 279.3,54.8 280.3,54.3 281.3,53.9 282.3,53.5 283.3,53.2 284.3,53.0 285.3,52.8 286.3,52.7 287.3,52.6 288.3,52.7 289.3,52.8 290.3,53.1 291.3,53.5 292.3,53.9 293.3,54.5 294.3,55.2 295.3,56.0 296.3,57.0 297.3,58.0 298.3,59.2 299.3,60.4 300.3,61.7 301.3,63.0 302.3,64.4 303.3,65.8 304.3,67.2 305.3,68.6 306.3,70.0 307.3,71.4 308.3,72.7 309.3,73.9 310.3,75.1 311.3,76.2 312.3,77.3 313.3,78.3 314.3,79.2 315.3,80.1 316.3,80.9 317.3,81.6 318.3,82.3 319.3,82.9 320.3,83.5 321.3,84.1 322.3,84.7 323.3,85.2 324.3,85.6 325.3,86.1 326.3,86.5 327.3,86.8 328.3,87.1 329.3,87.4 330.3,87.6 331.3,87.8 332.3,87.9 333.3,88.0 334.3,88.1 335.3,88.2 336.3,88.2 337.3,88.3 338.3,88.3 339.3,88.3 340.3,88.4 341.3,88.4 342.3,88.4 343.3,88.4 344.3,88.4 345.3,88.4 346.3,88.4 347.3,88.4 348.3,88.4 349.3,88.4 350.3,88.4 351.3,88.4" stroke="#cc5e28" stroke-width="1.8" fill="none" stroke-linejoin="round"/><path d="M199.3,151.60 L350.8,151.60" stroke="#1e24b4" stroke-width="1.45" stroke-dasharray="2.0 1.0" fill="none"/><path d="M220.0,151.2 221.0,151.1 222.0,150.9 223.0,150.7 224.0,150.5 225.0,150.3 226.0,150.0 227.0,149.6 228.0,149.2 229.0,148.7 230.0,148.1 231.0,147.4 232.0,146.6 233.0,145.8 234.0,144.8 235.0,143.7 236.0,142.5 237.0,141.2 238.0,139.8 239.0,138.2 240.0,136.6 241.0,134.9 242.0,133.1 243.0,131.2 244.0,129.4 245.0,127.5 246.0,125.6 247.0,123.8 248.0,122.0 249.0,120.4 250.0,118.9 251.0,117.5 252.0,116.3 253.0,115.3 254.0,114.5 255.0,114.0 256.0,113.7 257.0,113.7 258.0,113.8 259.0,114.2 260.0,114.8 261.0,115.6 262.0,116.5 263.0,117.6 264.0,118.8 265.0,120.2 266.0,121.7 267.0,123.2 268.0,124.9 269.0,126.5 270.0,128.2 271.0,129.9 272.0,131.6 273.0,133.2 274.0,134.9 275.0,136.4 276.0,137.9 277.0,139.3 278.0,140.6 279.0,141.8 280.0,143.0 281.0,144.0 282.0,145.0 283.0,145.8 284.0,146.6 285.0,147.3 286.0,147.9 287.0,148.5 288.0,149.0 289.0,149.4 290.0,149.7 291.0,150.1 292.0,150.3 293.0,150.5 294.0,150.7 295.0,150.9 296.0,151.0 297.0,151.1" stroke="#1e24b4" stroke-width="1.45" stroke-dasharray="2.0 1.0" fill="none"/><path d="M244.9,151.2 245.9,151.0 246.9,150.9 247.9,150.8 248.9,150.6 249.9,150.3 250.9,150.1 251.9,149.7 252.9,149.3 253.9,148.9 254.9,148.4 255.9,147.8 256.9,147.2 257.9,146.4 258.9,145.6 259.9,144.6 260.9,143.6 261.9,142.5 262.9,141.2 263.9,139.9 264.9,138.5 265.9,137.0 266.9,135.4 267.9,133.7 268.9,131.9 269.9,130.2 270.9,128.4 271.9,126.5 272.9,124.7 273.9,123.0 274.9,121.3 275.9,119.6 276.9,118.1 277.9,116.7 278.9,115.5 279.9,114.4 280.9,113.5 281.9,112.8 282.9,112.3 283.9,112.1 284.9,112.0 285.9,112.2 286.9,112.6 287.9,113.2 288.9,114.0 289.9,114.9 290.9,116.0 291.9,117.3 292.9,118.7 293.9,120.2 294.9,121.8 295.9,123.4 296.9,125.1 297.9,126.9 298.9,128.6 299.9,130.3 300.9,132.0 301.9,133.7 302.9,135.3 303.9,136.8 304.9,138.3 305.9,139.7 306.9,141.0 307.9,142.2 308.9,143.3 309.9,144.3 310.9,145.2 311.9,146.1 312.9,146.8 313.9,147.5 314.9,148.1 315.9,148.6 316.9,149.1 317.9,149.5 318.9,149.8 319.9,150.1 320.9,150.4 321.9,150.6 322.9,150.8 323.9,150.9 324.9,151.1 325.9,151.2" stroke="#1e24b4" stroke-width="1.45" stroke-dasharray="2.0 1.0" fill="none"/><path d="M281.2,151.5 282.2,151.5 283.2,151.4 284.2,151.4 285.2,151.3 286.2,151.2 287.2,151.0 288.2,150.8 289.2,150.6 290.2,150.3 291.2,150.0 292.2,149.6 293.2,149.2 294.2,148.8 295.2,148.2 296.2,147.7 297.2,147.1 298.2,146.6 299.2,146.0 300.2,145.5 301.2,145.0 302.2,144.5 303.2,144.2 304.2,144.0 305.2,143.8 306.2,143.8 307.2,143.9 308.2,144.0 309.2,144.1 310.2,144.4 311.2,144.6 312.2,145.0 313.2,145.3 314.2,145.7 315.2,146.1 316.2,146.5 317.2,147.0 318.2,147.4 319.2,147.8 320.2,148.2 321.2,148.6 322.2,148.9 323.2,149.3 324.2,149.6 325.2,149.9 326.2,150.1 327.2,150.4 328.2,150.6 329.2,150.7 330.2,150.9 331.2,151.0 332.2,151.1 333.2,151.2 334.2,151.3 335.2,151.4 336.2,151.4 337.2,151.5 338.2,151.5 339.2,151.5" stroke="#1e24b4" stroke-width="1.45" stroke-dasharray="2.0 1.0" fill="none"/><path d="M198.3,151.3 199.3,151.3 200.3,151.3 201.3,151.3 202.3,151.3 203.3,151.3 204.3,151.3 205.3,151.3 206.3,151.3 207.3,151.3 208.3,151.3 209.3,151.3 210.3,151.3 211.3,151.3 212.3,151.2 213.3,151.2 214.3,151.2 215.3,151.2 216.3,151.1 217.3,151.1 218.3,151.0 219.3,150.9 220.3,150.9 221.3,150.7 222.3,150.6 223.3,150.4 224.3,150.2 225.3,149.9 226.3,149.6 227.3,149.2 228.3,148.7 229.3,148.2 230.3,147.6 231.3,146.9 232.3,146.1 233.3,145.2 234.3,144.2 235.3,143.1 236.3,141.8 237.3,140.5 238.3,139.0 239.3,137.4 240.3,135.7 241.3,133.9 242.3,132.1 243.3,130.2 244.3,128.2 245.3,126.2 246.3,124.2 247.3,122.3 248.3,120.4 249.3,118.5 250.3,116.8 251.3,115.2 252.3,113.7 253.3,112.4 254.3,111.2 255.3,110.2 256.3,109.4 257.3,108.7 258.3,108.1 259.3,107.7 260.3,107.4 261.3,107.1 262.3,106.9 263.3,106.8 264.3,106.7 265.3,106.6 266.3,106.6 267.3,106.5 268.3,106.5 269.3,106.4 270.3,106.3 271.3,106.2 272.3,106.0 273.3,105.9 274.3,105.7 275.3,105.5 276.3,105.4 277.3,105.3 278.3,105.2 279.3,105.2 280.3,105.3 281.3,105.5 282.3,105.8 283.3,106.2 284.3,106.7 285.3,107.3 286.3,108.1 287.3,108.9 288.3,109.8 289.3,110.8 290.3,111.9 291.3,113.1 292.3,114.3 293.3,115.5 294.3,116.7 295.3,118.0 296.3,119.2 297.3,120.5 298.3,121.7 299.3,123.0 300.3,124.2 301.3,125.5 302.3,126.7 303.3,128.0 304.3,129.3 305.3,130.7 306.3,132.0 307.3,133.3 308.3,134.6 309.3,135.9 310.3,137.1 311.3,138.3 312.3,139.4 313.3,140.5 314.3,141.6 315.3,142.5 316.3,143.5 317.3,144.3 318.3,145.1 319.3,145.9 320.3,146.6 321.3,147.2 322.3,147.7 323.3,148.3 324.3,148.7 325.3,149.1 326.3,149.5 327.3,149.8 328.3,150.0 329.3,150.3 330.3,150.4 331.3,150.6 332.3,150.7 333.3,150.9 334.3,150.9 335.3,151.0 336.3,151.1 337.3,151.1 338.3,151.2 339.3,151.2 340.3,151.2 341.3,151.2 342.3,151.3 343.3,151.3 344.3,151.3 345.3,151.3 346.3,151.3 347.3,151.3 348.3,151.3 349.3,151.3 350.3,151.3 351.3,151.3" stroke="#8c4a2c" stroke-width="2.8" fill="none" stroke-linejoin="round"/><path d="M198.3,151.3 199.3,151.3 200.3,151.3 201.3,151.3 202.3,151.3 203.3,151.3 204.3,151.3 205.3,151.3 206.3,151.3 207.3,151.3 208.3,151.3 209.3,151.3 210.3,151.3 211.3,151.3 212.3,151.2 213.3,151.2 214.3,151.2 215.3,151.2 216.3,151.1 217.3,151.1 218.3,151.0 219.3,150.9 220.3,150.9 221.3,150.7 222.3,150.6 223.3,150.4 224.3,150.2 225.3,149.9 226.3,149.6 227.3,149.2 228.3,148.7 229.3,148.2 230.3,147.6 231.3,146.9 232.3,146.1 233.3,145.2 234.3,144.2 235.3,143.1 236.3,141.8 237.3,140.5 238.3,139.0 239.3,137.4 240.3,135.7 241.3,133.9 242.3,132.1 243.3,130.2 244.3,128.2 245.3,126.2 246.3,124.2 247.3,122.3 248.3,120.4 249.3,118.5 250.3,116.8 251.3,115.2 252.3,113.7 253.3,112.4 254.3,111.2 255.3,110.2 256.3,109.4 257.3,108.7 258.3,108.1 259.3,107.7 260.3,107.4 261.3,107.1 262.3,106.9 263.3,106.8 264.3,106.7 265.3,106.6 266.3,106.6 267.3,106.5 268.3,106.5 269.3,106.4 270.3,106.3 271.3,106.2 272.3,106.0 273.3,105.9 274.3,105.7 275.3,105.5 276.3,105.4 277.3,105.3 278.3,105.2 279.3,105.2 280.3,105.3 281.3,105.5 282.3,105.8 283.3,106.2 284.3,106.7 285.3,107.3 286.3,108.1 287.3,108.9 288.3,109.8 289.3,110.8 290.3,111.9 291.3,113.1 292.3,114.3 293.3,115.5 294.3,116.7 295.3,118.0 296.3,119.2 297.3,120.5 298.3,121.7 299.3,123.0 300.3,124.2 301.3,125.5 302.3,126.7 303.3,128.0 304.3,129.3 305.3,130.7 306.3,132.0 307.3,133.3 308.3,134.6 309.3,135.9 310.3,137.1 311.3,138.3 312.3,139.4 313.3,140.5 314.3,141.6 315.3,142.5 316.3,143.5 317.3,144.3 318.3,145.1 319.3,145.9 320.3,146.6 321.3,147.2 322.3,147.7 323.3,148.3 324.3,148.7 325.3,149.1 326.3,149.5 327.3,149.8 328.3,150.0 329.3,150.3 330.3,150.4 331.3,150.6 332.3,150.7 333.3,150.9 334.3,150.9 335.3,151.0 336.3,151.1 337.3,151.1 338.3,151.2 339.3,151.2 340.3,151.2 341.3,151.2 342.3,151.3 343.3,151.3 344.3,151.3 345.3,151.3 346.3,151.3 347.3,151.3 348.3,151.3 349.3,151.3 350.3,151.3 351.3,151.3" stroke="#cc5e28" stroke-width="1.8" fill="none" stroke-linejoin="round"/><path d="M198.3,214.3 199.3,214.3 200.3,214.3 201.3,214.3 202.3,214.3 203.3,214.3 204.3,214.3 205.3,214.3 206.3,214.3 207.3,214.3 208.3,214.3 209.3,214.3 210.3,214.3 211.3,214.3 212.3,214.3 213.3,214.3 214.3,214.3 215.3,214.3 216.3,214.3 217.3,214.3 218.3,214.3 219.3,214.3 220.3,214.3 221.3,214.3 222.3,214.3 223.3,214.3 224.3,214.3 225.3,214.3 226.3,214.3 227.3,214.3 228.3,214.3 229.3,214.3 230.3,214.3 231.3,214.3 232.3,214.3 233.3,214.3 234.3,214.3 235.3,214.3 236.3,214.3 237.3,214.3 238.3,214.3 239.3,214.3 240.3,214.3 241.3,214.3 242.3,214.3 243.3,214.3 244.3,214.3 245.3,214.3 246.3,214.2 247.3,214.2 248.3,214.2 249.3,214.2 250.3,214.1 251.3,214.1 252.3,214.1 253.3,214.0 254.3,214.0 255.3,213.9 256.3,213.9 257.3,213.8 258.3,213.8 259.3,213.7 260.3,213.7 261.3,213.6 262.3,213.5 263.3,213.5 264.3,213.4 265.3,213.4 266.3,213.3 267.3,213.3 268.3,213.2 269.3,213.2 270.3,213.2 271.3,213.2 272.3,213.2 273.3,213.2 274.3,213.2 275.3,213.2 276.3,213.2 277.3,213.2 278.3,213.3 279.3,213.3 280.3,213.4 281.3,213.4 282.3,213.5 283.3,213.5 284.3,213.6 285.3,213.6 286.3,213.7 287.3,213.8 288.3,213.8 289.3,213.9 290.3,213.9 291.3,214.0 292.3,214.0 293.3,214.1 294.3,214.1 295.3,214.1 296.3,214.2 297.3,214.2 298.3,214.2 299.3,214.2 300.3,214.3 301.3,214.3 302.3,214.3 303.3,214.3 304.3,214.3 305.3,214.3 306.3,214.3 307.3,214.3 308.3,214.3 309.3,214.3 310.3,214.3 311.3,214.3 312.3,214.3 313.3,214.3 314.3,214.3 315.3,214.3 316.3,214.3 317.3,214.3 318.3,214.3 319.3,214.3 320.3,214.3 321.3,214.3 322.3,214.3 323.3,214.3 324.3,214.3 325.3,214.3 326.3,214.3 327.3,214.3 328.3,214.3 329.3,214.3 330.3,214.3 331.3,214.3 332.3,214.3 333.3,214.3 334.3,214.3 335.3,214.3 336.3,214.3 337.3,214.3 338.3,214.3 339.3,214.3 340.3,214.3 341.3,214.3 342.3,214.3 343.3,214.3 344.3,214.3 345.3,214.3 346.3,214.3 347.3,214.3 348.3,214.3 349.3,214.3 350.3,214.3 351.3,214.3" stroke="#333a34" stroke-width="2.9" fill="none" stroke-linejoin="round"/><path d="M198.3,276.6 199.3,276.6 200.3,276.6 201.3,276.6 202.3,276.6 203.3,276.6 204.3,276.6 205.3,276.6 206.3,276.6 207.3,276.6 208.3,276.6 209.3,276.6 210.3,276.6 211.3,276.6 212.3,276.6 213.3,276.6 214.3,276.6 215.3,276.6 216.3,276.6 217.3,276.6 218.3,276.6 219.3,276.6 220.3,276.6 221.3,276.6 222.3,276.6 223.3,276.6 224.3,276.6 225.3,276.6 226.3,276.6 227.3,276.6 228.3,276.6 229.3,276.6 230.3,276.6 231.3,276.6 232.3,276.6 233.3,276.6 234.3,276.6 235.3,276.6 236.3,276.6 237.3,276.6 238.3,276.6 239.3,276.6 240.3,276.6 241.3,276.6 242.3,276.6 243.3,276.5 244.3,276.5 245.3,276.5 246.3,276.5 247.3,276.5 248.3,276.5 249.3,276.5 250.3,276.5 251.3,276.5 252.3,276.4 253.3,276.4 254.3,276.4 255.3,276.4 256.3,276.4 257.3,276.4 258.3,276.4 259.3,276.3 260.3,276.3 261.3,276.3 262.3,276.3 263.3,276.3 264.3,276.3 265.3,276.2 266.3,276.2 267.3,276.2 268.3,276.2 269.3,276.2 270.3,276.2 271.3,276.2 272.3,276.2 273.3,276.2 274.3,276.2 275.3,276.2 276.3,276.2 277.3,276.2 278.3,276.2 279.3,276.2 280.3,276.2 281.3,276.3 282.3,276.3 283.3,276.3 284.3,276.3 285.3,276.3 286.3,276.3 287.3,276.3 288.3,276.4 289.3,276.4 290.3,276.4 291.3,276.4 292.3,276.4 293.3,276.4 294.3,276.5 295.3,276.5 296.3,276.5 297.3,276.5 298.3,276.5 299.3,276.5 300.3,276.5 301.3,276.5 302.3,276.5 303.3,276.5 304.3,276.6 305.3,276.6 306.3,276.6 307.3,276.6 308.3,276.6 309.3,276.6 310.3,276.6 311.3,276.6 312.3,276.6 313.3,276.6 314.3,276.6 315.3,276.6 316.3,276.6 317.3,276.6 318.3,276.6 319.3,276.6 320.3,276.6 321.3,276.6 322.3,276.6 323.3,276.6 324.3,276.6 325.3,276.6 326.3,276.6 327.3,276.6 328.3,276.6 329.3,276.6 330.3,276.6 331.3,276.6 332.3,276.6 333.3,276.6 334.3,276.6 335.3,276.6 336.3,276.6 337.3,276.6 338.3,276.6 339.3,276.6 340.3,276.6 341.3,276.6 342.3,276.6 343.3,276.6 344.3,276.6 345.3,276.6 346.3,276.6 347.3,276.6 348.3,276.6 349.3,276.6 350.3,276.6 351.3,276.6" stroke="#333a34" stroke-width="2.9" fill="none" stroke-linejoin="round"/></g><g clip-path="url(#c2)"><path d="M379.0,88.65 L530.1,88.65" stroke="#1e24b4" stroke-width="1.45" stroke-dasharray="2.0 1.0" fill="none"/><path d="M390.0,88.2 391.0,88.1 392.0,88.0 393.0,87.9 394.0,87.8 395.0,87.6 396.0,87.5 397.0,87.3 398.0,87.1 399.0,86.8 400.0,86.6 401.0,86.3 402.0,86.0 403.0,85.6 404.0,85.3 405.0,84.8 406.0,84.4 407.0,83.9 408.0,83.3 409.0,82.7 410.0,82.0 411.0,81.3 412.0,80.6 413.0,79.8 414.0,78.9 415.0,78.0 416.0,77.0 417.0,76.0 418.0,74.9 419.0,73.8 420.0,72.6 421.0,71.4 422.0,70.1 423.0,68.8 424.0,67.5 425.0,66.1 426.0,64.8 427.0,63.4 428.0,62.0 429.0,60.6 430.0,59.2 431.0,57.8 432.0,56.4 433.0,55.1 434.0,53.8 435.0,52.6 436.0,51.4 437.0,50.3 438.0,49.3 439.0,48.4 440.0,47.5 441.0,46.8 442.0,46.1 443.0,45.6 444.0,45.2 445.0,44.9 446.0,44.7 447.0,44.6 448.0,44.8 449.0,45.2 450.0,45.8 451.0,46.7 452.0,47.8 453.0,49.1 454.0,50.6 455.0,52.2 456.0,54.0 457.0,55.9 458.0,57.9 459.0,59.9 460.0,62.0 461.0,64.0 462.0,66.0 463.0,68.0 464.0,69.9 465.0,71.8 466.0,73.5 467.0,75.2 468.0,76.7 469.0,78.1 470.0,79.5 471.0,80.6 472.0,81.7 473.0,82.7 474.0,83.6 475.0,84.3 476.0,85.0 477.0,85.6 478.0,86.1 479.0,86.5 480.0,86.9 481.0,87.2 482.0,87.5 483.0,87.7 484.0,87.9 485.0,88.0 486.0,88.2" stroke="#1e24b4" stroke-width="1.45" stroke-dasharray="2.0 1.0" fill="none"/><path d="M428.9,88.5 429.9,88.4 430.9,88.4 431.9,88.3 432.9,88.2 433.9,88.1 434.9,88.0 435.9,87.9 436.9,87.7 437.9,87.6 438.9,87.4 439.9,87.1 440.9,86.9 441.9,86.6 442.9,86.3 443.9,85.9 444.9,85.5 445.9,85.1 446.9,84.6 447.9,84.1 448.9,83.5 449.9,82.9 450.9,82.3 451.9,81.6 452.9,80.9 453.9,80.2 454.9,79.5 455.9,78.7 456.9,77.9 457.9,77.2 458.9,76.4 459.9,75.7 460.9,75.0 461.9,74.3 462.9,73.7 463.9,73.2 464.9,72.7 465.9,72.2 466.9,71.9 467.9,71.6 468.9,71.4 469.9,71.3 470.9,71.3 471.9,71.3 472.9,71.5 473.9,71.7 474.9,72.0 475.9,72.4 476.9,72.8 477.9,73.3 478.9,73.8 479.9,74.4 480.9,75.1 481.9,75.8 482.9,76.4 483.9,77.2 484.9,77.9 485.9,78.6 486.9,79.3 487.9,80.0 488.9,80.7 489.9,81.4 490.9,82.0 491.9,82.6 492.9,83.2 493.9,83.8 494.9,84.3 495.9,84.8 496.9,85.2 497.9,85.6 498.9,86.0 499.9,86.3 500.9,86.6 501.9,86.9 502.9,87.1 503.9,87.4 504.9,87.5 505.9,87.7 506.9,87.9 507.9,88.0 508.9,88.1 509.9,88.2 510.9,88.3 511.9,88.3 512.9,88.4 513.9,88.4" stroke="#1e24b4" stroke-width="1.45" stroke-dasharray="2.0 1.0" fill="none"/><path d="M378.0,88.3 379.0,88.3 380.0,88.3 381.0,88.2 382.0,88.2 383.0,88.2 384.0,88.2 385.0,88.1 386.0,88.1 387.0,88.0 388.0,88.0 389.0,87.9 390.0,87.9 391.0,87.8 392.0,87.7 393.0,87.6 394.0,87.5 395.0,87.3 396.0,87.2 397.0,87.0 398.0,86.8 399.0,86.5 400.0,86.3 401.0,86.0 402.0,85.7 403.0,85.3 404.0,85.0 405.0,84.5 406.0,84.1 407.0,83.6 408.0,83.0 409.0,82.4 410.0,81.7 411.0,81.0 412.0,80.3 413.0,79.5 414.0,78.6 415.0,77.7 416.0,76.7 417.0,75.7 418.0,74.6 419.0,73.5 420.0,72.3 421.0,71.1 422.0,69.8 423.0,68.5 424.0,67.1 425.0,65.8 426.0,64.4 427.0,62.9 428.0,61.5 429.0,60.1 430.0,58.6 431.0,57.2 432.0,55.8 433.0,54.4 434.0,53.0 435.0,51.7 436.0,50.4 437.0,49.1 438.0,47.9 439.0,46.8 440.0,45.7 441.0,44.7 442.0,43.8 443.0,42.9 444.0,42.1 445.0,41.4 446.0,40.8 447.0,40.2 448.0,39.8 449.0,39.7 450.0,39.7 451.0,39.9 452.0,40.4 453.0,41.0 454.0,41.8 455.0,42.7 456.0,43.7 457.0,44.8 458.0,46.1 459.0,47.3 460.0,48.7 461.0,50.0 462.0,51.4 463.0,52.7 464.0,54.1 465.0,55.4 466.0,56.8 467.0,58.0 468.0,59.3 469.0,60.6 470.0,61.8 471.0,63.0 472.0,64.1 473.0,65.2 474.0,66.3 475.0,67.4 476.0,68.4 477.0,69.5 478.0,70.5 479.0,71.5 480.0,72.5 481.0,73.4 482.0,74.3 483.0,75.3 484.0,76.2 485.0,77.0 486.0,77.9 487.0,78.7 488.0,79.5 489.0,80.2 490.0,81.0 491.0,81.7 492.0,82.3 493.0,82.9 494.0,83.5 495.0,84.0 496.0,84.5 497.0,84.9 498.0,85.3 499.0,85.7 500.0,86.0 501.0,86.4 502.0,86.6 503.0,86.9 504.0,87.1 505.0,87.3 506.0,87.4 507.0,87.6 508.0,87.7 509.0,87.8 510.0,87.9 511.0,88.0 512.0,88.0 513.0,88.1 514.0,88.1 515.0,88.2 516.0,88.2 517.0,88.2 518.0,88.3 519.0,88.3 520.0,88.3 521.0,88.3 522.0,88.3 523.0,88.3 524.0,88.3 525.0,88.3 526.0,88.3 527.0,88.3 528.0,88.3 529.0,88.3 530.0,88.3 531.0,88.3" stroke="#8c4a2c" stroke-width="2.8" fill="none" stroke-linejoin="round"/><path d="M378.0,88.3 379.0,88.3 380.0,88.3 381.0,88.2 382.0,88.2 383.0,88.2 384.0,88.2 385.0,88.1 386.0,88.1 387.0,88.0 388.0,88.0 389.0,87.9 390.0,87.9 391.0,87.8 392.0,87.7 393.0,87.6 394.0,87.5 395.0,87.3 396.0,87.2 397.0,87.0 398.0,86.8 399.0,86.5 400.0,86.3 401.0,86.0 402.0,85.7 403.0,85.3 404.0,85.0 405.0,84.5 406.0,84.1 407.0,83.6 408.0,83.0 409.0,82.4 410.0,81.7 411.0,81.0 412.0,80.3 413.0,79.5 414.0,78.6 415.0,77.7 416.0,76.7 417.0,75.7 418.0,74.6 419.0,73.5 420.0,72.3 421.0,71.1 422.0,69.8 423.0,68.5 424.0,67.1 425.0,65.8 426.0,64.4 427.0,62.9 428.0,61.5 429.0,60.1 430.0,58.6 431.0,57.2 432.0,55.8 433.0,54.4 434.0,53.0 435.0,51.7 436.0,50.4 437.0,49.1 438.0,47.9 439.0,46.8 440.0,45.7 441.0,44.7 442.0,43.8 443.0,42.9 444.0,42.1 445.0,41.4 446.0,40.8 447.0,40.2 448.0,39.8 449.0,39.7 450.0,39.7 451.0,39.9 452.0,40.4 453.0,41.0 454.0,41.8 455.0,42.7 456.0,43.7 457.0,44.8 458.0,46.1 459.0,47.3 460.0,48.7 461.0,50.0 462.0,51.4 463.0,52.7 464.0,54.1 465.0,55.4 466.0,56.8 467.0,58.0 468.0,59.3 469.0,60.6 470.0,61.8 471.0,63.0 472.0,64.1 473.0,65.2 474.0,66.3 475.0,67.4 476.0,68.4 477.0,69.5 478.0,70.5 479.0,71.5 480.0,72.5 481.0,73.4 482.0,74.3 483.0,75.3 484.0,76.2 485.0,77.0 486.0,77.9 487.0,78.7 488.0,79.5 489.0,80.2 490.0,81.0 491.0,81.7 492.0,82.3 493.0,82.9 494.0,83.5 495.0,84.0 496.0,84.5 497.0,84.9 498.0,85.3 499.0,85.7 500.0,86.0 501.0,86.4 502.0,86.6 503.0,86.9 504.0,87.1 505.0,87.3 506.0,87.4 507.0,87.6 508.0,87.7 509.0,87.8 510.0,87.9 511.0,88.0 512.0,88.0 513.0,88.1 514.0,88.1 515.0,88.2 516.0,88.2 517.0,88.2 518.0,88.3 519.0,88.3 520.0,88.3 521.0,88.3 522.0,88.3 523.0,88.3 524.0,88.3 525.0,88.3 526.0,88.3 527.0,88.3 528.0,88.3 529.0,88.3 530.0,88.3 531.0,88.3" stroke="#cc5e28" stroke-width="1.8" fill="none" stroke-linejoin="round"/><path d="M379.0,151.20 L530.1,151.20" stroke="#1e24b4" stroke-width="1.45" stroke-dasharray="2.0 1.0" fill="none"/><path d="M392.6,150.7 393.6,150.6 394.6,150.5 395.6,150.3 396.6,150.1 397.6,149.9 398.6,149.7 399.6,149.4 400.6,149.1 401.6,148.7 402.6,148.2 403.6,147.7 404.6,147.1 405.6,146.5 406.6,145.8 407.6,145.0 408.6,144.1 409.6,143.1 410.6,142.0 411.6,140.9 412.6,139.6 413.6,138.3 414.6,136.9 415.6,135.4 416.6,133.8 417.6,132.1 418.6,130.4 419.6,128.7 420.6,126.9 421.6,125.1 422.6,123.3 423.6,121.5 424.6,119.8 425.6,118.1 426.6,116.5 427.6,115.0 428.6,113.6 429.6,112.3 430.6,111.2 431.6,110.2 432.6,109.4 433.6,108.8 434.6,108.4 435.6,108.2 436.6,108.2 437.6,108.4 438.6,108.8 439.6,109.3 440.6,110.0 441.6,110.8 442.6,111.8 443.6,113.0 444.6,114.2 445.6,115.6 446.6,117.0 447.6,118.5 448.6,120.1 449.6,121.8 450.6,123.4 451.6,125.1 452.6,126.8 453.6,128.5 454.6,130.1 455.6,131.7 456.6,133.3 457.6,134.8 458.6,136.2 459.6,137.6 460.6,138.9 461.6,140.1 462.6,141.2 463.6,142.3 464.6,143.3 465.6,144.2 466.6,145.0 467.6,145.7 468.6,146.4 469.6,147.0 470.6,147.6 471.6,148.1 472.6,148.5 473.6,148.9 474.6,149.2 475.6,149.5 476.6,149.8 477.6,150.0 478.6,150.2 479.6,150.4 480.6,150.5 481.6,150.6 482.6,150.7" stroke="#1e24b4" stroke-width="1.45" stroke-dasharray="2.0 1.0" fill="none"/><path d="M423.0,151.1 424.0,151.1 425.0,151.0 426.0,151.0 427.0,151.0 428.0,150.9 429.0,150.9 430.0,150.8 431.0,150.8 432.0,150.7 433.0,150.6 434.0,150.5 435.0,150.4 436.0,150.3 437.0,150.2 438.0,150.1 439.0,149.9 440.0,149.7 441.0,149.6 442.0,149.4 443.0,149.1 444.0,148.9 445.0,148.7 446.0,148.4 447.0,148.1 448.0,147.8 449.0,147.5 450.0,147.2 451.0,146.9 452.0,146.5 453.0,146.2 454.0,145.8 455.0,145.4 456.0,145.1 457.0,144.7 458.0,144.4 459.0,144.0 460.0,143.7 461.0,143.4 462.0,143.1 463.0,142.8 464.0,142.6 465.0,142.3 466.0,142.2 467.0,142.0 468.0,141.9 469.0,141.8 470.0,141.7 471.0,141.7 472.0,141.7 473.0,141.9 474.0,142.1 475.0,142.4 476.0,142.8 477.0,143.3 478.0,143.8 479.0,144.3 480.0,144.9 481.0,145.4 482.0,146.0 483.0,146.6 484.0,147.1 485.0,147.6 486.0,148.1 487.0,148.6 488.0,149.0 489.0,149.3 490.0,149.6 491.0,149.9 492.0,150.2 493.0,150.4 494.0,150.5 495.0,150.7 496.0,150.8 497.0,150.9 498.0,151.0 499.0,151.0 500.0,151.1 501.0,151.1" stroke="#1e24b4" stroke-width="1.45" stroke-dasharray="2.0 1.0" fill="none"/><path d="M378.0,150.9 379.0,150.9 380.0,150.9 381.0,150.9 382.0,150.9 383.0,150.8 384.0,150.8 385.0,150.8 386.0,150.8 387.0,150.8 388.0,150.7 389.0,150.7 390.0,150.6 391.0,150.6 392.0,150.5 393.0,150.4 394.0,150.3 395.0,150.1 396.0,150.0 397.0,149.8 398.0,149.5 399.0,149.3 400.0,149.0 401.0,148.6 402.0,148.2 403.0,147.7 404.0,147.2 405.0,146.6 406.0,145.9 407.0,145.2 408.0,144.3 409.0,143.4 410.0,142.4 411.0,141.3 412.0,140.1 413.0,138.8 414.0,137.4 415.0,136.0 416.0,134.4 417.0,132.8 418.0,131.1 419.0,129.4 420.0,127.6 421.0,125.8 422.0,124.0 423.0,122.2 424.0,120.4 425.0,118.7 426.0,117.0 427.0,115.4 428.0,113.9 429.0,112.5 430.0,111.2 431.0,110.1 432.0,109.1 433.0,108.3 434.0,107.7 435.0,107.3 436.0,107.0 437.0,107.0 438.0,107.1 439.0,107.4 440.0,107.8 441.0,108.4 442.0,109.1 443.0,109.9 444.0,110.9 445.0,111.9 446.0,113.0 447.0,114.2 448.0,115.5 449.0,116.8 450.0,118.1 451.0,119.5 452.0,120.8 453.0,122.1 454.0,123.4 455.0,124.7 456.0,125.9 457.0,127.1 458.0,128.2 459.0,129.3 460.0,130.3 461.0,131.3 462.0,132.1 463.0,133.0 464.0,133.8 465.0,134.5 466.0,135.2 467.0,135.8 468.0,136.4 469.0,137.0 470.0,137.5 471.0,138.0 472.0,138.5 473.0,139.1 474.0,139.7 475.0,140.3 476.0,141.0 477.0,141.6 478.0,142.4 479.0,143.1 480.0,143.8 481.0,144.5 482.0,145.2 483.0,145.8 484.0,146.5 485.0,147.0 486.0,147.6 487.0,148.1 488.0,148.5 489.0,148.9 490.0,149.2 491.0,149.5 492.0,149.8 493.0,150.0 494.0,150.2 495.0,150.3 496.0,150.5 497.0,150.6 498.0,150.6 499.0,150.7 500.0,150.7 501.0,150.8 502.0,150.8 503.0,150.8 504.0,150.9 505.0,150.9 506.0,150.9 507.0,150.9 508.0,150.9 509.0,150.9 510.0,150.9 511.0,150.9 512.0,150.9 513.0,150.9 514.0,150.9 515.0,150.9 516.0,150.9 517.0,150.9 518.0,150.9 519.0,150.9 520.0,150.9 521.0,150.9 522.0,150.9 523.0,150.9 524.0,150.9 525.0,150.9 526.0,150.9 527.0,150.9 528.0,150.9 529.0,150.9 530.0,150.9 531.0,150.9" stroke="#8c4a2c" stroke-width="2.8" fill="none" stroke-linejoin="round"/><path d="M378.0,150.9 379.0,150.9 380.0,150.9 381.0,150.9 382.0,150.9 383.0,150.8 384.0,150.8 385.0,150.8 386.0,150.8 387.0,150.8 388.0,150.7 389.0,150.7 390.0,150.6 391.0,150.6 392.0,150.5 393.0,150.4 394.0,150.3 395.0,150.1 396.0,150.0 397.0,149.8 398.0,149.5 399.0,149.3 400.0,149.0 401.0,148.6 402.0,148.2 403.0,147.7 404.0,147.2 405.0,146.6 406.0,145.9 407.0,145.2 408.0,144.3 409.0,143.4 410.0,142.4 411.0,141.3 412.0,140.1 413.0,138.8 414.0,137.4 415.0,136.0 416.0,134.4 417.0,132.8 418.0,131.1 419.0,129.4 420.0,127.6 421.0,125.8 422.0,124.0 423.0,122.2 424.0,120.4 425.0,118.7 426.0,117.0 427.0,115.4 428.0,113.9 429.0,112.5 430.0,111.2 431.0,110.1 432.0,109.1 433.0,108.3 434.0,107.7 435.0,107.3 436.0,107.0 437.0,107.0 438.0,107.1 439.0,107.4 440.0,107.8 441.0,108.4 442.0,109.1 443.0,109.9 444.0,110.9 445.0,111.9 446.0,113.0 447.0,114.2 448.0,115.5 449.0,116.8 450.0,118.1 451.0,119.5 452.0,120.8 453.0,122.1 454.0,123.4 455.0,124.7 456.0,125.9 457.0,127.1 458.0,128.2 459.0,129.3 460.0,130.3 461.0,131.3 462.0,132.1 463.0,133.0 464.0,133.8 465.0,134.5 466.0,135.2 467.0,135.8 468.0,136.4 469.0,137.0 470.0,137.5 471.0,138.0 472.0,138.5 473.0,139.1 474.0,139.7 475.0,140.3 476.0,141.0 477.0,141.6 478.0,142.4 479.0,143.1 480.0,143.8 481.0,144.5 482.0,145.2 483.0,145.8 484.0,146.5 485.0,147.0 486.0,147.6 487.0,148.1 488.0,148.5 489.0,148.9 490.0,149.2 491.0,149.5 492.0,149.8 493.0,150.0 494.0,150.2 495.0,150.3 496.0,150.5 497.0,150.6 498.0,150.6 499.0,150.7 500.0,150.7 501.0,150.8 502.0,150.8 503.0,150.8 504.0,150.9 505.0,150.9 506.0,150.9 507.0,150.9 508.0,150.9 509.0,150.9 510.0,150.9 511.0,150.9 512.0,150.9 513.0,150.9 514.0,150.9 515.0,150.9 516.0,150.9 517.0,150.9 518.0,150.9 519.0,150.9 520.0,150.9 521.0,150.9 522.0,150.9 523.0,150.9 524.0,150.9 525.0,150.9 526.0,150.9 527.0,150.9 528.0,150.9 529.0,150.9 530.0,150.9 531.0,150.9" stroke="#cc5e28" stroke-width="1.8" fill="none" stroke-linejoin="round"/><path d="M379.0,214.70 L530.1,214.70" stroke="#1e24b4" stroke-width="1.45" stroke-dasharray="2.0 1.0" fill="none"/><path d="M407.0,214.5 408.0,214.4 409.0,214.4 410.0,214.3 411.0,214.3 412.0,214.2 413.0,214.1 414.0,214.0 415.0,213.9 416.0,213.8 417.0,213.6 418.0,213.4 419.0,213.3 420.0,213.0 421.0,212.8 422.0,212.6 423.0,212.3 424.0,212.0 425.0,211.6 426.0,211.3 427.0,210.9 428.0,210.4 429.0,210.0 430.0,209.5 431.0,209.0 432.0,208.4 433.0,207.8 434.0,207.2 435.0,206.6 436.0,205.9 437.0,205.3 438.0,204.6 439.0,203.9 440.0,203.2 441.0,202.5 442.0,201.8 443.0,201.1 444.0,200.4 445.0,199.7 446.0,199.1 447.0,198.5 448.0,197.9 449.0,197.4 450.0,196.9 451.0,196.5 452.0,196.1 453.0,195.8 454.0,195.5 455.0,195.4 456.0,195.3 457.0,195.2 458.0,195.3 459.0,195.4 460.0,195.7 461.0,196.1 462.0,196.6 463.0,197.1 464.0,197.8 465.0,198.5 466.0,199.3 467.0,200.2 468.0,201.0 469.0,202.0 470.0,202.9 471.0,203.8 472.0,204.7 473.0,205.6 474.0,206.4 475.0,207.3 476.0,208.0 477.0,208.8 478.0,209.5 479.0,210.1 480.0,210.7 481.0,211.2 482.0,211.7 483.0,212.1 484.0,212.5 485.0,212.8 486.0,213.1 487.0,213.4 488.0,213.6 489.0,213.8 490.0,213.9 491.0,214.1 492.0,214.2 493.0,214.3 494.0,214.4 495.0,214.4" stroke="#1e24b4" stroke-width="1.45" stroke-dasharray="2.0 1.0" fill="none"/><path d="M445.1,214.6 446.1,214.6 447.1,214.6 448.1,214.6 449.1,214.6 450.1,214.5 451.1,214.5 452.1,214.4 453.1,214.3 454.1,214.3 455.1,214.2 456.1,214.0 457.1,213.9 458.1,213.8 459.1,213.6 460.1,213.4 461.1,213.2 462.1,213.0 463.1,212.8 464.1,212.5 465.1,212.3 466.1,212.0 467.1,211.8 468.1,211.5 469.1,211.3 470.1,211.0 471.1,210.8 472.1,210.6 473.1,210.5 474.1,210.3 475.1,210.3 476.1,210.2 477.1,210.2 478.1,210.2 479.1,210.3 480.1,210.3 481.1,210.4 482.1,210.6 483.1,210.7 484.1,210.9 485.1,211.1 486.1,211.3 487.1,211.6 488.1,211.8 489.1,212.0 490.1,212.3 491.1,212.5 492.1,212.7 493.1,212.9 494.1,213.1 495.1,213.3 496.1,213.5 497.1,213.6 498.1,213.8 499.1,213.9 500.1,214.0 501.1,214.1 502.1,214.2 503.1,214.3 504.1,214.4 505.1,214.4 506.1,214.5 507.1,214.5 508.1,214.6 509.1,214.6 510.1,214.6 511.1,214.6 512.0,214.6" stroke="#1e24b4" stroke-width="1.45" stroke-dasharray="2.0 1.0" fill="none"/><path d="M378.0,214.4 379.0,214.4 380.0,214.4 381.0,214.4 382.0,214.4 383.0,214.4 384.0,214.4 385.0,214.4 386.0,214.4 387.0,214.4 388.0,214.4 389.0,214.4 390.0,214.4 391.0,214.4 392.0,214.4 393.0,214.4 394.0,214.4 395.0,214.4 396.0,214.4 397.0,214.4 398.0,214.4 399.0,214.4 400.0,214.3 401.0,214.3 402.0,214.3 403.0,214.3 404.0,214.3 405.0,214.3 406.0,214.2 407.0,214.2 408.0,214.1 409.0,214.1 410.0,214.0 411.0,214.0 412.0,213.9 413.0,213.8 414.0,213.7 415.0,213.6 416.0,213.5 417.0,213.3 418.0,213.1 419.0,213.0 420.0,212.8 421.0,212.5 422.0,212.3 423.0,212.0 424.0,211.7 425.0,211.3 426.0,211.0 427.0,210.6 428.0,210.1 429.0,209.7 430.0,209.2 431.0,208.7 432.0,208.1 433.0,207.5 434.0,206.9 435.0,206.3 436.0,205.6 437.0,205.0 438.0,204.3 439.0,203.6 440.0,202.9 441.0,202.2 442.0,201.5 443.0,200.7 444.0,200.1 445.0,199.4 446.0,198.7 447.0,198.1 448.0,197.5 449.0,196.9 450.0,196.4 451.0,196.0 452.0,195.5 453.0,195.1 454.0,194.8 455.0,194.5 456.0,194.3 457.0,194.1 458.0,194.0 459.0,194.0 460.0,194.1 461.0,194.3 462.0,194.6 463.0,194.9 464.0,195.3 465.0,195.8 466.0,196.4 467.0,196.9 468.0,197.6 469.0,198.2 470.0,198.9 471.0,199.6 472.0,200.3 473.0,201.0 474.0,201.8 475.0,202.5 476.0,203.2 477.0,203.9 478.0,204.6 479.0,205.3 480.0,206.0 481.0,206.6 482.0,207.3 483.0,207.8 484.0,208.4 485.0,208.9 486.0,209.4 487.0,209.9 488.0,210.4 489.0,210.8 490.0,211.2 491.0,211.6 492.0,211.9 493.0,212.2 494.0,212.5 495.0,212.7 496.0,213.0 497.0,213.2 498.0,213.4 499.0,213.5 500.0,213.7 501.0,213.8 502.0,213.9 503.0,214.0 504.0,214.0 505.0,214.1 506.0,214.2 507.0,214.2 508.0,214.2 509.0,214.3 510.0,214.3 511.0,214.3 512.0,214.3 513.0,214.4 514.0,214.4 515.0,214.4 516.0,214.4 517.0,214.4 518.0,214.4 519.0,214.4 520.0,214.4 521.0,214.4 522.0,214.4 523.0,214.4 524.0,214.4 525.0,214.4 526.0,214.4 527.0,214.4 528.0,214.4 529.0,214.4 530.0,214.4 531.0,214.4" stroke="#8c4a2c" stroke-width="2.8" fill="none" stroke-linejoin="round"/><path d="M378.0,214.4 379.0,214.4 380.0,214.4 381.0,214.4 382.0,214.4 383.0,214.4 384.0,214.4 385.0,214.4 386.0,214.4 387.0,214.4 388.0,214.4 389.0,214.4 390.0,214.4 391.0,214.4 392.0,214.4 393.0,214.4 394.0,214.4 395.0,214.4 396.0,214.4 397.0,214.4 398.0,214.4 399.0,214.4 400.0,214.3 401.0,214.3 402.0,214.3 403.0,214.3 404.0,214.3 405.0,214.3 406.0,214.2 407.0,214.2 408.0,214.1 409.0,214.1 410.0,214.0 411.0,214.0 412.0,213.9 413.0,213.8 414.0,213.7 415.0,213.6 416.0,213.5 417.0,213.3 418.0,213.1 419.0,213.0 420.0,212.8 421.0,212.5 422.0,212.3 423.0,212.0 424.0,211.7 425.0,211.3 426.0,211.0 427.0,210.6 428.0,210.1 429.0,209.7 430.0,209.2 431.0,208.7 432.0,208.1 433.0,207.5 434.0,206.9 435.0,206.3 436.0,205.6 437.0,205.0 438.0,204.3 439.0,203.6 440.0,202.9 441.0,202.2 442.0,201.5 443.0,200.7 444.0,200.1 445.0,199.4 446.0,198.7 447.0,198.1 448.0,197.5 449.0,196.9 450.0,196.4 451.0,196.0 452.0,195.5 453.0,195.1 454.0,194.8 455.0,194.5 456.0,194.3 457.0,194.1 458.0,194.0 459.0,194.0 460.0,194.1 461.0,194.3 462.0,194.6 463.0,194.9 464.0,195.3 465.0,195.8 466.0,196.4 467.0,196.9 468.0,197.6 469.0,198.2 470.0,198.9 471.0,199.6 472.0,200.3 473.0,201.0 474.0,201.8 475.0,202.5 476.0,203.2 477.0,203.9 478.0,204.6 479.0,205.3 480.0,206.0 481.0,206.6 482.0,207.3 483.0,207.8 484.0,208.4 485.0,208.9 486.0,209.4 487.0,209.9 488.0,210.4 489.0,210.8 490.0,211.2 491.0,211.6 492.0,211.9 493.0,212.2 494.0,212.5 495.0,212.7 496.0,213.0 497.0,213.2 498.0,213.4 499.0,213.5 500.0,213.7 501.0,213.8 502.0,213.9 503.0,214.0 504.0,214.0 505.0,214.1 506.0,214.2 507.0,214.2 508.0,214.2 509.0,214.3 510.0,214.3 511.0,214.3 512.0,214.3 513.0,214.4 514.0,214.4 515.0,214.4 516.0,214.4 517.0,214.4 518.0,214.4 519.0,214.4 520.0,214.4 521.0,214.4 522.0,214.4 523.0,214.4 524.0,214.4 525.0,214.4 526.0,214.4 527.0,214.4 528.0,214.4 529.0,214.4 530.0,214.4 531.0,214.4" stroke="#cc5e28" stroke-width="1.8" fill="none" stroke-linejoin="round"/><path d="M379.0,277.10 L530.1,277.10" stroke="#1e24b4" stroke-width="1.45" stroke-dasharray="2.0 1.0" fill="none"/><path d="M403.8,277.0 404.8,276.9 405.8,276.9 406.8,276.9 407.8,276.8 408.8,276.8 409.8,276.7 410.8,276.6 411.8,276.5 412.8,276.4 413.8,276.3 414.8,276.1 415.8,276.0 416.8,275.8 417.8,275.6 418.8,275.4 419.8,275.1 420.8,274.9 421.8,274.6 422.8,274.3 423.8,273.9 424.8,273.6 425.8,273.2 426.8,272.8 427.8,272.3 428.8,271.9 429.8,271.4 430.8,270.9 431.8,270.4 432.8,269.9 433.8,269.5 434.8,269.0 435.8,268.5 436.8,268.0 437.8,267.6 438.8,267.1 439.8,266.7 440.8,266.4 441.8,266.1 442.8,265.8 443.8,265.6 444.8,265.4 445.8,265.3 446.8,265.2 447.8,265.2 448.8,265.2 449.8,265.3 450.8,265.4 451.8,265.6 452.8,265.8 453.8,266.0 454.8,266.3 455.8,266.6 456.8,267.0 457.8,267.3 458.8,267.7 459.8,268.1 460.8,268.5 461.8,269.0 462.8,269.4 463.8,269.8 464.8,270.3 465.8,270.7 466.8,271.2 467.8,271.6 468.8,272.0 469.8,272.4 470.8,272.8 471.8,273.1 472.8,273.5 473.8,273.8 474.8,274.1 475.8,274.4 476.8,274.7 477.8,275.0 478.8,275.2 479.8,275.4 480.8,275.6 481.8,275.8 482.8,275.9 483.8,276.1 484.8,276.2 485.8,276.3 486.8,276.4 487.8,276.5 488.8,276.6 489.8,276.7 490.8,276.7 491.8,276.8 492.8,276.8 493.8,276.9 494.8,276.9 495.8,276.9" stroke="#1e24b4" stroke-width="1.45" stroke-dasharray="2.0 1.0" fill="none"/><path d="M432.2,277.0 433.2,277.0 434.2,277.0 435.2,277.0 436.2,276.9 437.2,276.9 438.2,276.8 439.2,276.8 440.2,276.7 441.2,276.6 442.2,276.5 443.2,276.4 444.2,276.3 445.2,276.1 446.2,275.9 447.2,275.7 448.2,275.5 449.2,275.3 450.2,275.1 451.2,274.8 452.2,274.5 453.2,274.2 454.2,273.9 455.2,273.6 456.2,273.3 457.2,273.0 458.2,272.7 459.2,272.4 460.2,272.2 461.2,271.9 462.2,271.7 463.2,271.5 464.2,271.4 465.2,271.3 466.2,271.2 467.2,271.2 468.2,271.2 469.2,271.2 470.2,271.3 471.2,271.4 472.2,271.5 473.2,271.7 474.2,271.9 475.2,272.1 476.2,272.3 477.2,272.5 478.2,272.8 479.2,273.0 480.2,273.3 481.2,273.5 482.2,273.8 483.2,274.0 484.2,274.3 485.2,274.5 486.2,274.8 487.2,275.0 488.2,275.2 489.2,275.4 490.2,275.6 491.2,275.8 492.2,275.9 493.2,276.1 494.2,276.2 495.2,276.3 496.2,276.4 497.2,276.5 498.2,276.6 499.2,276.7 500.2,276.7 501.2,276.8 502.2,276.8 503.2,276.9 504.2,276.9 505.2,277.0 506.2,277.0 507.2,277.0 508.2,277.0" stroke="#1e24b4" stroke-width="1.45" stroke-dasharray="2.0 1.0" fill="none"/><path d="M378.0,276.8 379.0,276.8 380.0,276.8 381.0,276.8 382.0,276.8 383.0,276.8 384.0,276.8 385.0,276.8 386.0,276.8 387.0,276.8 388.0,276.8 389.0,276.8 390.0,276.8 391.0,276.8 392.0,276.8 393.0,276.8 394.0,276.8 395.0,276.8 396.0,276.8 397.0,276.8 398.0,276.8 399.0,276.8 400.0,276.7 401.0,276.7 402.0,276.7 403.0,276.7 404.0,276.7 405.0,276.6 406.0,276.6 407.0,276.5 408.0,276.5 409.0,276.4 410.0,276.4 411.0,276.3 412.0,276.2 413.0,276.1 414.0,276.0 415.0,275.8 416.0,275.6 417.0,275.5 418.0,275.3 419.0,275.0 420.0,274.8 421.0,274.5 422.0,274.2 423.0,273.9 424.0,273.6 425.0,273.2 426.0,272.8 427.0,272.4 428.0,271.9 429.0,271.5 430.0,271.0 431.0,270.5 432.0,270.0 433.0,269.5 434.0,268.9 435.0,268.4 436.0,267.9 437.0,267.4 438.0,266.9 439.0,266.4 440.0,266.0 441.0,265.5 442.0,265.1 443.0,264.8 444.0,264.4 445.0,264.1 446.0,263.8 447.0,263.6 448.0,263.4 449.0,263.2 450.0,263.0 451.0,262.9 452.0,262.8 453.0,262.7 454.0,262.7 455.0,262.7 456.0,262.7 457.0,262.7 458.0,262.8 459.0,262.9 460.0,263.0 461.0,263.2 462.0,263.4 463.0,263.7 464.0,264.0 465.0,264.3 466.0,264.6 467.0,265.0 468.0,265.5 469.0,265.9 470.0,266.4 471.0,266.9 472.0,267.3 473.0,267.8 474.0,268.3 475.0,268.8 476.0,269.3 477.0,269.8 478.0,270.3 479.0,270.8 480.0,271.3 481.0,271.7 482.0,272.1 483.0,272.6 484.0,273.0 485.0,273.3 486.0,273.7 487.0,274.0 488.0,274.3 489.0,274.6 490.0,274.8 491.0,275.1 492.0,275.3 493.0,275.5 494.0,275.7 495.0,275.8 496.0,276.0 497.0,276.1 498.0,276.2 499.0,276.3 500.0,276.4 501.0,276.4 502.0,276.5 503.0,276.5 504.0,276.6 505.0,276.6 506.0,276.7 507.0,276.7 508.0,276.7 509.0,276.7 510.0,276.7 511.0,276.8 512.0,276.8 513.0,276.8 514.0,276.8 515.0,276.8 516.0,276.8 517.0,276.8 518.0,276.8 519.0,276.8 520.0,276.8 521.0,276.8 522.0,276.8 523.0,276.8 524.0,276.8 525.0,276.8 526.0,276.8 527.0,276.8 528.0,276.8 529.0,276.8 530.0,276.8 531.0,276.8" stroke="#8c4a2c" stroke-width="2.8" fill="none" stroke-linejoin="round"/><path d="M378.0,276.8 379.0,276.8 380.0,276.8 381.0,276.8 382.0,276.8 383.0,276.8 384.0,276.8 385.0,276.8 386.0,276.8 387.0,276.8 388.0,276.8 389.0,276.8 390.0,276.8 391.0,276.8 392.0,276.8 393.0,276.8 394.0,276.8 395.0,276.8 396.0,276.8 397.0,276.8 398.0,276.8 399.0,276.8 400.0,276.7 401.0,276.7 402.0,276.7 403.0,276.7 404.0,276.7 405.0,276.6 406.0,276.6 407.0,276.5 408.0,276.5 409.0,276.4 410.0,276.4 411.0,276.3 412.0,276.2 413.0,276.1 414.0,276.0 415.0,275.8 416.0,275.6 417.0,275.5 418.0,275.3 419.0,275.0 420.0,274.8 421.0,274.5 422.0,274.2 423.0,273.9 424.0,273.6 425.0,273.2 426.0,272.8 427.0,272.4 428.0,271.9 429.0,271.5 430.0,271.0 431.0,270.5 432.0,270.0 433.0,269.5 434.0,268.9 435.0,268.4 436.0,267.9 437.0,267.4 438.0,266.9 439.0,266.4 440.0,266.0 441.0,265.5 442.0,265.1 443.0,264.8 444.0,264.4 445.0,264.1 446.0,263.8 447.0,263.6 448.0,263.4 449.0,263.2 450.0,263.0 451.0,262.9 452.0,262.8 453.0,262.7 454.0,262.7 455.0,262.7 456.0,262.7 457.0,262.7 458.0,262.8 459.0,262.9 460.0,263.0 461.0,263.2 462.0,263.4 463.0,263.7 464.0,264.0 465.0,264.3 466.0,264.6 467.0,265.0 468.0,265.5 469.0,265.9 470.0,266.4 471.0,266.9 472.0,267.3 473.0,267.8 474.0,268.3 475.0,268.8 476.0,269.3 477.0,269.8 478.0,270.3 479.0,270.8 480.0,271.3 481.0,271.7 482.0,272.1 483.0,272.6 484.0,273.0 485.0,273.3 486.0,273.7 487.0,274.0 488.0,274.3 489.0,274.6 490.0,274.8 491.0,275.1 492.0,275.3 493.0,275.5 494.0,275.7 495.0,275.8 496.0,276.0 497.0,276.1 498.0,276.2 499.0,276.3 500.0,276.4 501.0,276.4 502.0,276.5 503.0,276.5 504.0,276.6 505.0,276.6 506.0,276.7 507.0,276.7 508.0,276.7 509.0,276.7 510.0,276.7 511.0,276.8 512.0,276.8 513.0,276.8 514.0,276.8 515.0,276.8 516.0,276.8 517.0,276.8 518.0,276.8 519.0,276.8 520.0,276.8 521.0,276.8 522.0,276.8 523.0,276.8 524.0,276.8 525.0,276.8 526.0,276.8 527.0,276.8 528.0,276.8 529.0,276.8 530.0,276.8 531.0,276.8" stroke="#cc5e28" stroke-width="1.8" fill="none" stroke-linejoin="round"/></g><path d="M26.43,277.6 L26.43,275.20000000000005" stroke="#111" stroke-width="0.9"/><path d="M32.80,277.6 L32.80,275.20000000000005" stroke="#111" stroke-width="0.9"/><path d="M39.18,277.6 L39.18,275.20000000000005" stroke="#111" stroke-width="0.9"/><path d="M45.56,277.6 L45.56,273.6" stroke="#111" stroke-width="0.9"/><path d="M51.94,277.6 L51.94,275.20000000000005" stroke="#111" stroke-width="0.9"/><path d="M58.31,277.6 L58.31,275.20000000000005" stroke="#111" stroke-width="0.9"/><path d="M64.69,277.6 L64.69,275.20000000000005" stroke="#111" stroke-width="0.9"/><path d="M71.07,277.6 L71.07,273.6" stroke="#111" stroke-width="0.9"/><path d="M77.44,277.6 L77.44,275.20000000000005" stroke="#111" stroke-width="0.9"/><path d="M83.82,277.6 L83.82,275.20000000000005" stroke="#111" stroke-width="0.9"/><path d="M90.20,277.6 L90.20,275.20000000000005" stroke="#111" stroke-width="0.9"/><path d="M96.57,277.6 L96.57,273.6" stroke="#111" stroke-width="0.9"/><path d="M102.95,277.6 L102.95,275.20000000000005" stroke="#111" stroke-width="0.9"/><path d="M109.33,277.6 L109.33,275.20000000000005" stroke="#111" stroke-width="0.9"/><path d="M115.71,277.6 L115.71,275.20000000000005" stroke="#111" stroke-width="0.9"/><path d="M122.08,277.6 L122.08,273.6" stroke="#111" stroke-width="0.9"/><path d="M128.46,277.6 L128.46,275.20000000000005" stroke="#111" stroke-width="0.9"/><path d="M134.84,277.6 L134.84,275.20000000000005" stroke="#111" stroke-width="0.9"/><path d="M141.21,277.6 L141.21,275.20000000000005" stroke="#111" stroke-width="0.9"/><path d="M147.59,277.6 L147.59,273.6" stroke="#111" stroke-width="0.9"/><path d="M153.97,277.6 L153.97,275.20000000000005" stroke="#111" stroke-width="0.9"/><path d="M160.35,277.6 L160.35,275.20000000000005" stroke="#111" stroke-width="0.9"/><path d="M166.72,277.6 L166.72,275.20000000000005" stroke="#111" stroke-width="0.9"/><path d="M207.89,277.6 L207.89,275.20000000000005" stroke="#111" stroke-width="0.9"/><path d="M217.49,277.6 L217.49,273.6" stroke="#111" stroke-width="0.9"/><path d="M227.08,277.6 L227.08,275.20000000000005" stroke="#111" stroke-width="0.9"/><path d="M236.68,277.6 L236.68,275.20000000000005" stroke="#111" stroke-width="0.9"/><path d="M246.27,277.6 L246.27,275.20000000000005" stroke="#111" stroke-width="0.9"/><path d="M255.86,277.6 L255.86,273.6" stroke="#111" stroke-width="0.9"/><path d="M265.46,277.6 L265.46,275.20000000000005" stroke="#111" stroke-width="0.9"/><path d="M275.05,277.6 L275.05,275.20000000000005" stroke="#111" stroke-width="0.9"/><path d="M284.64,277.6 L284.64,275.20000000000005" stroke="#111" stroke-width="0.9"/><path d="M294.24,277.6 L294.24,273.6" stroke="#111" stroke-width="0.9"/><path d="M303.83,277.6 L303.83,275.20000000000005" stroke="#111" stroke-width="0.9"/><path d="M313.43,277.6 L313.43,275.20000000000005" stroke="#111" stroke-width="0.9"/><path d="M323.02,277.6 L323.02,275.20000000000005" stroke="#111" stroke-width="0.9"/><path d="M332.61,277.6 L332.61,273.6" stroke="#111" stroke-width="0.9"/><path d="M342.21,277.6 L342.21,275.20000000000005" stroke="#111" stroke-width="0.9"/><path d="M387.57,277.6 L387.57,275.20000000000005" stroke="#111" stroke-width="0.9"/><path d="M397.14,277.6 L397.14,275.20000000000005" stroke="#111" stroke-width="0.9"/><path d="M406.71,277.6 L406.71,275.20000000000005" stroke="#111" stroke-width="0.9"/><path d="M416.27,277.6 L416.27,273.6" stroke="#111" stroke-width="0.9"/><path d="M425.84,277.6 L425.84,275.20000000000005" stroke="#111" stroke-width="0.9"/><path d="M435.41,277.6 L435.41,275.20000000000005" stroke="#111" stroke-width="0.9"/><path d="M444.98,277.6 L444.98,275.20000000000005" stroke="#111" stroke-width="0.9"/><path d="M454.55,277.6 L454.55,273.6" stroke="#111" stroke-width="0.9"/><path d="M464.12,277.6 L464.12,275.20000000000005" stroke="#111" stroke-width="0.9"/><path d="M473.69,277.6 L473.69,275.20000000000005" stroke="#111" stroke-width="0.9"/><path d="M483.26,277.6 L483.26,275.20000000000005" stroke="#111" stroke-width="0.9"/><path d="M492.83,277.6 L492.83,273.6" stroke="#111" stroke-width="0.9"/><path d="M502.39,277.6 L502.39,275.20000000000005" stroke="#111" stroke-width="0.9"/><path d="M511.96,277.6 L511.96,275.20000000000005" stroke="#111" stroke-width="0.9"/><path d="M521.53,277.6 L521.53,275.20000000000005" stroke="#111" stroke-width="0.9"/><path d="M20.05,277.6 L20.05,2.1 L173.1,2.1 L173.1,277.6" fill="none" stroke="#0a0a0a" stroke-width="1.7"/><path d="M19.2,277.1 L173.95,277.1" fill="none" stroke="#0a0505" stroke-width="2.6"/><path d="M198.3,277.6 L198.3,2.1 L351.8,2.1 L351.8,277.6" fill="none" stroke="#0a0a0a" stroke-width="1.7"/><path d="M197.45000000000002,277.1 L352.65000000000003,277.1" fill="none" stroke="#0a0505" stroke-width="2.6"/><path d="M378.0,277.6 L378.0,2.1 L531.1,2.1 L531.1,277.6" fill="none" stroke="#0a0a0a" stroke-width="1.7"/><path d="M377.15,277.1 L531.95,277.1" fill="none" stroke="#0a0505" stroke-width="2.6"/><text x="22.2" y="14.2" font-family='"Liberation Sans", sans-serif' font-size="13.4" font-weight="bold" text-anchor="start" fill="#000" >C 1s</text><text x="201.4" y="13.9" font-family='"Liberation Sans", sans-serif' font-size="13.4" font-weight="bold" text-anchor="start" fill="#000" >N 1s</text><text x="380.3" y="14.2" font-family='"Liberation Sans", sans-serif' font-size="13.4" font-weight="bold" text-anchor="start" fill="#000" >O 1s</text><text class="n" x="57.3" y="18.8" font-family='"Liberation Sans", sans-serif' font-size="10.7" fill="#222">R<tspan font-size="7.2" dy="2.0">C1</tspan></text><path d="M77.5,7.7 L77.5,25.8" stroke="#435043" stroke-width="1.5"/><path d="M94.6,7.7 L94.6,25.8" stroke="#435043" stroke-width="1.5"/><text class="n" x="97.8" y="18.8" font-family='"Liberation Sans", sans-serif' font-size="10.7" fill="#222">R<tspan font-size="7.2" dy="2.0">C2</tspan></text><path d="M118,36.2 L118,54.2" stroke="#435043" stroke-width="1.5"/><text class="n" x="122.2" y="47.7" font-family='"Liberation Sans", sans-serif' font-size="10.7" fill="#222">R<tspan font-size="7.2" dy="2.0">C3</tspan></text><text class="n" x="234.1" y="28.5" font-family='"Liberation Sans", sans-serif' font-size="10.7" fill="#222">R<tspan font-size="7.2" dy="2.0">N1</tspan></text><path d="M253.6,14.4 L253.6,32.2" stroke="#435043" stroke-width="1.5"/><path d="M292.0,14.4 L292.0,32.0" stroke="#435043" stroke-width="1.5"/><text class="n" x="295.2" y="28.5" font-family='"Liberation Sans", sans-serif' font-size="10.7" fill="#222">R<tspan font-size="7.2" dy="2.0">N2</tspan></text><text class="n" x="414.2" y="40.5" font-family='"Liberation Sans", sans-serif' font-size="10.7" fill="#222">R<tspan font-size="7.2" dy="2.0">O1</tspan></text><path d="M434.4,29.1 L434.4,47.0" stroke="#435043" stroke-width="1.5"/><path d="M462.6,8.3 L462.6,25.8" stroke="#435043" stroke-width="1.5"/><text class="n" x="465.8" y="18.4" font-family='"Liberation Sans", sans-serif' font-size="10.7" fill="#222">R<tspan font-size="7.2" dy="2.0">O2</tspan></text><text class="n" x="55.4" y="81.5" font-family='"Liberation Sans", sans-serif' font-size="11" font-weight="normal" text-anchor="end" fill="#222" >65.3%</text><text class="n" x="55.4" y="143.0" font-family='"Liberation Sans", sans-serif' font-size="11" font-weight="normal" text-anchor="end" fill="#222" >61.9%</text><text class="n" x="55.4" y="206.7" font-family='"Liberation Sans", sans-serif' font-size="11" font-weight="normal" text-anchor="end" fill="#222" >83.7%</text><text class="n" x="55.4" y="268.3" font-family='"Liberation Sans", sans-serif' font-size="11" font-weight="normal" text-anchor="end" fill="#222" >86.4%</text><text class="n" x="232.6" y="78.5" font-family='"Liberation Sans", sans-serif' font-size="11" font-weight="normal" text-anchor="end" fill="#222" >18.6%</text><text class="n" x="232.6" y="141.9" font-family='"Liberation Sans", sans-serif' font-size="11" font-weight="normal" text-anchor="end" fill="#222" >26.5%</text><text class="n" x="232.6" y="205.7" font-family='"Liberation Sans", sans-serif' font-size="11" font-weight="normal" text-anchor="end" fill="#222" >2.3%</text><text class="n" x="232.6" y="268.2" font-family='"Liberation Sans", sans-serif' font-size="11" font-weight="normal" text-anchor="end" fill="#222" >1.6%</text><text class="n" x="414.8" y="78.2" font-family='"Liberation Sans", sans-serif' font-size="11" font-weight="normal" text-anchor="end" fill="#222" >16.0%</text><text class="n" x="413.0" y="134.9" font-family='"Liberation Sans", sans-serif' font-size="11" font-weight="normal" text-anchor="end" fill="#222" >11.5%</text><text class="n" x="415.2" y="205.1" font-family='"Liberation Sans", sans-serif' font-size="11" font-weight="normal" text-anchor="end" fill="#222" >13.9%</text><text class="n" x="415.0" y="268.0" font-family='"Liberation Sans", sans-serif' font-size="11" font-weight="normal" text-anchor="end" fill="#222" >12.0%</text><text class="n" x="171.6" y="99.1" font-family='"Liberation Sans", sans-serif' font-size="10.7" fill="#222" text-anchor="end"><tspan font-size="10.7" dy="0">Ar:N</tspan><tspan font-size="7.2" dy="2.0">2</tspan><tspan font-size="10.7" dy="-2.0">:CH</tspan><tspan font-size="7.2" dy="2.0">4</tspan></text><text class="n" x="171.6" y="161.7" font-family='"Liberation Sans", sans-serif' font-size="10.7" fill="#222" text-anchor="end"><tspan font-size="10.7" dy="0">Ar:N</tspan><tspan font-size="7.2" dy="2.0">2</tspan></text><text class="n" x="171.6" y="225.5" font-family='"Liberation Sans", sans-serif' font-size="10.7" fill="#222" text-anchor="end"><tspan font-size="10.7" dy="0">Ar:CH</tspan><tspan font-size="7.2" dy="2.0">4</tspan></text><text class="n" x="171.6" y="271.7" font-family='"Liberation Sans", sans-serif' font-size="10.7" fill="#222" text-anchor="end"><tspan font-size="10.7" dy="0">Ar</tspan></text><text class="n" x="350.0" y="98.8" font-family='"Liberation Sans", sans-serif' font-size="10.7" fill="#222" text-anchor="end"><tspan font-size="10.7" dy="0">Ar:N</tspan><tspan font-size="7.2" dy="2.0">2</tspan><tspan font-size="10.7" dy="-2.0">:CH</tspan><tspan font-size="7.2" dy="2.0">4</tspan></text><text class="n" x="350.0" y="161.7" font-family='"Liberation Sans", sans-serif' font-size="10.7" fill="#222" text-anchor="end"><tspan font-size="10.7" dy="0">Ar:N</tspan><tspan font-size="7.2" dy="2.0">2</tspan></text><text class="n" x="350.0" y="225.5" font-family='"Liberation Sans", sans-serif' font-size="10.7" fill="#222" text-anchor="end"><tspan font-size="10.7" dy="0">Ar:CH</tspan><tspan font-size="7.2" dy="2.0">4</tspan></text><text class="n" x="350.0" y="271.7" font-family='"Liberation Sans", sans-serif' font-size="10.7" fill="#222" text-anchor="end"><tspan font-size="10.7" dy="0">Ar</tspan></text><text class="n" x="529.2" y="99.6" font-family='"Liberation Sans", sans-serif' font-size="10.7" fill="#222" text-anchor="end"><tspan font-size="10.7" dy="0">Ar:N</tspan><tspan font-size="7.2" dy="2.0">2</tspan><tspan font-size="10.7" dy="-2.0">:CH</tspan><tspan font-size="7.2" dy="2.0">4</tspan></text><text class="n" x="529.2" y="161.7" font-family='"Liberation Sans", sans-serif' font-size="10.7" fill="#222" text-anchor="end"><tspan font-size="10.7" dy="0">Ar:N</tspan><tspan font-size="7.2" dy="2.0">2</tspan></text><text class="n" x="529.2" y="225.5" font-family='"Liberation Sans", sans-serif' font-size="10.7" fill="#222" text-anchor="end"><tspan font-size="10.7" dy="0">Ar:CH</tspan><tspan font-size="7.2" dy="2.0">4</tspan></text><text class="n" x="529.2" y="271.7" font-family='"Liberation Sans", sans-serif' font-size="10.7" fill="#222" text-anchor="end"><tspan font-size="10.7" dy="0">Ar</tspan></text><text class="n" x="20.05" y="294" font-family='"Liberation Sans", sans-serif' font-size="13" font-weight="normal" text-anchor="middle" fill="#111" >280</text><text class="n" x="71.07" y="294" font-family='"Liberation Sans", sans-serif' font-size="13" font-weight="normal" text-anchor="middle" fill="#111" >284</text><text class="n" x="122.08" y="294" font-family='"Liberation Sans", sans-serif' font-size="13" font-weight="normal" text-anchor="middle" fill="#111" >288</text><text class="n" x="173.10" y="294" font-family='"Liberation Sans", sans-serif' font-size="13" font-weight="normal" text-anchor="middle" fill="#111" >292</text><text class="n" x="217.49" y="294" font-family='"Liberation Sans", sans-serif' font-size="13" font-weight="normal" text-anchor="middle" fill="#111" >396</text><text class="n" x="255.86" y="294" font-family='"Liberation Sans", sans-serif' font-size="13" font-weight="normal" text-anchor="middle" fill="#111" >398</text><text class="n" x="294.24" y="294" font-family='"Liberation Sans", sans-serif' font-size="13" font-weight="normal" text-anchor="middle" fill="#111" >400</text><text class="n" x="332.61" y="294" font-family='"Liberation Sans", sans-serif' font-size="13" font-weight="normal" text-anchor="middle" fill="#111" >402</text><text class="n" x="378.00" y="294" font-family='"Liberation Sans", sans-serif' font-size="13" font-weight="normal" text-anchor="middle" fill="#111" >528</text><text class="n" x="416.27" y="294" font-family='"Liberation Sans", sans-serif' font-size="13" font-weight="normal" text-anchor="middle" fill="#111" >530</text><text class="n" x="454.55" y="294" font-family='"Liberation Sans", sans-serif' font-size="13" font-weight="normal" text-anchor="middle" fill="#111" >532</text><text class="n" x="492.83" y="294" font-family='"Liberation Sans", sans-serif' font-size="13" font-weight="normal" text-anchor="middle" fill="#111" >534</text><text class="n" x="531.10" y="294" font-family='"Liberation Sans", sans-serif' font-size="13" font-weight="normal" text-anchor="middle" fill="#111" >536</text><text x="96.58" y="312.6" font-family='"Liberation Sans", sans-serif' font-size="13.3" font-weight="bold" text-anchor="middle" fill="#000" >Binding energy (eV)</text><text x="275.05" y="312.6" font-family='"Liberation Sans", sans-serif' font-size="13.3" font-weight="bold" text-anchor="middle" fill="#000" >Binding energy (eV)</text><text x="454.55" y="312.6" font-family='"Liberation Sans", sans-serif' font-size="13.3" font-weight="bold" text-anchor="middle" fill="#000" >Binding energy (eV)</text><text x="0" y="0" transform="translate(11.3,140.9) rotate(-90)" font-family='"Liberation Sans", sans-serif' font-size="13.3" font-weight="bold" text-anchor="middle" fill="#000">XPS intensity (arb. units)</text><text x="0" y="0" transform="translate(190.0,139.3) rotate(-90)" font-family='"Liberation Sans", sans-serif' font-size="13.3" font-weight="bold" text-anchor="middle" fill="#000">XPS intensity (arb. units)</text><text x="0" y="0" transform="translate(369.2,140.5) rotate(-90)" font-family='"Liberation Sans", sans-serif' font-size="13.3" font-weight="bold" text-anchor="middle" fill="#000">XPS intensity (arb. units)</text></svg>
</body></html>
